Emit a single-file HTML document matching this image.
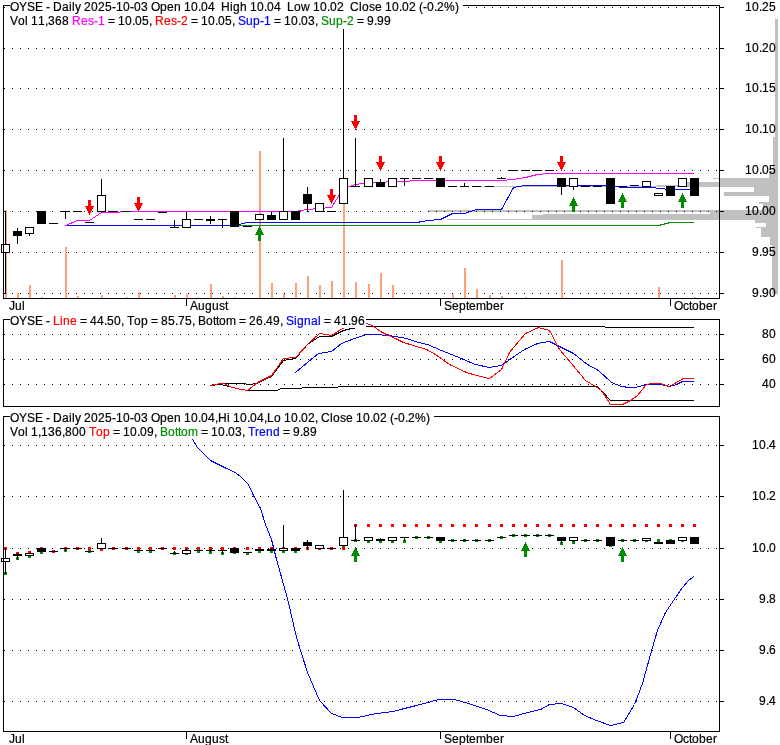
<!DOCTYPE html>
<html><head><meta charset="utf-8"><title>OYSE Daily Chart</title>
<style>
html,body{margin:0;padding:0;background:#fff;}
body{width:780px;height:745px;overflow:hidden;}
svg{display:block;}

</style></head>
<body>
<svg width="780" height="745" viewBox="0 0 780 745">
<g shape-rendering="crispEdges">
<rect x="775" y="19" width="3" height="118" fill="#c0c0c0"/>
<rect x="773" y="137" width="5" height="34" fill="#c0c0c0"/>
<rect x="769" y="171" width="9" height="7" fill="#c0c0c0"/>
<rect x="713" y="178" width="65" height="1" fill="#c0c0c0"/>
<rect x="720" y="179" width="58" height="3" fill="#c0c0c0"/>
<rect x="687" y="182" width="91" height="3" fill="#c0c0c0"/>
<rect x="657" y="185" width="121" height="1" fill="#c0c0c0"/>
<rect x="481" y="186" width="297" height="1" fill="#c0c0c0"/>
<rect x="754" y="187" width="24" height="5" fill="#c0c0c0"/>
<rect x="724" y="192" width="54" height="4" fill="#c0c0c0"/>
<rect x="769" y="196" width="9" height="6" fill="#c0c0c0"/>
<rect x="759" y="202" width="19" height="2" fill="#c0c0c0"/>
<rect x="763" y="204" width="15" height="6" fill="#c0c0c0"/>
<rect x="428" y="210" width="350" height="2" fill="#c0c0c0"/>
<rect x="710" y="212" width="68" height="2" fill="#c0c0c0"/>
<rect x="543" y="214" width="235" height="1" fill="#c0c0c0"/>
<rect x="532" y="215" width="246" height="4" fill="#c0c0c0"/>
<rect x="447" y="219" width="331" height="1" fill="#c0c0c0"/>
<rect x="755" y="220" width="23" height="3" fill="#c0c0c0"/>
<rect x="766" y="223" width="12" height="4" fill="#c0c0c0"/>
<rect x="756" y="227" width="22" height="1" fill="#c0c0c0"/>
<rect x="761" y="228" width="17" height="9" fill="#c0c0c0"/>
<rect x="770" y="237" width="8" height="8" fill="#c0c0c0"/>
<rect x="772" y="245" width="6" height="49" fill="#c0c0c0"/>
<rect x="4" y="7" width="1" height="1" fill="#000"/>
<rect x="12" y="7" width="1" height="1" fill="#000"/>
<rect x="20" y="7" width="1" height="1" fill="#000"/>
<rect x="28" y="7" width="1" height="1" fill="#000"/>
<rect x="36" y="7" width="1" height="1" fill="#000"/>
<rect x="44" y="7" width="1" height="1" fill="#000"/>
<rect x="52" y="7" width="1" height="1" fill="#000"/>
<rect x="60" y="7" width="1" height="1" fill="#000"/>
<rect x="68" y="7" width="1" height="1" fill="#000"/>
<rect x="76" y="7" width="1" height="1" fill="#000"/>
<rect x="84" y="7" width="1" height="1" fill="#000"/>
<rect x="92" y="7" width="1" height="1" fill="#000"/>
<rect x="100" y="7" width="1" height="1" fill="#000"/>
<rect x="108" y="7" width="1" height="1" fill="#000"/>
<rect x="116" y="7" width="1" height="1" fill="#000"/>
<rect x="124" y="7" width="1" height="1" fill="#000"/>
<rect x="132" y="7" width="1" height="1" fill="#000"/>
<rect x="140" y="7" width="1" height="1" fill="#000"/>
<rect x="148" y="7" width="1" height="1" fill="#000"/>
<rect x="156" y="7" width="1" height="1" fill="#000"/>
<rect x="164" y="7" width="1" height="1" fill="#000"/>
<rect x="172" y="7" width="1" height="1" fill="#000"/>
<rect x="180" y="7" width="1" height="1" fill="#000"/>
<rect x="188" y="7" width="1" height="1" fill="#000"/>
<rect x="196" y="7" width="1" height="1" fill="#000"/>
<rect x="204" y="7" width="1" height="1" fill="#000"/>
<rect x="212" y="7" width="1" height="1" fill="#000"/>
<rect x="220" y="7" width="1" height="1" fill="#000"/>
<rect x="228" y="7" width="1" height="1" fill="#000"/>
<rect x="236" y="7" width="1" height="1" fill="#000"/>
<rect x="244" y="7" width="1" height="1" fill="#000"/>
<rect x="252" y="7" width="1" height="1" fill="#000"/>
<rect x="260" y="7" width="1" height="1" fill="#000"/>
<rect x="268" y="7" width="1" height="1" fill="#000"/>
<rect x="276" y="7" width="1" height="1" fill="#000"/>
<rect x="284" y="7" width="1" height="1" fill="#000"/>
<rect x="292" y="7" width="1" height="1" fill="#000"/>
<rect x="300" y="7" width="1" height="1" fill="#000"/>
<rect x="308" y="7" width="1" height="1" fill="#000"/>
<rect x="316" y="7" width="1" height="1" fill="#000"/>
<rect x="324" y="7" width="1" height="1" fill="#000"/>
<rect x="332" y="7" width="1" height="1" fill="#000"/>
<rect x="340" y="7" width="1" height="1" fill="#000"/>
<rect x="348" y="7" width="1" height="1" fill="#000"/>
<rect x="356" y="7" width="1" height="1" fill="#000"/>
<rect x="364" y="7" width="1" height="1" fill="#000"/>
<rect x="372" y="7" width="1" height="1" fill="#000"/>
<rect x="380" y="7" width="1" height="1" fill="#000"/>
<rect x="388" y="7" width="1" height="1" fill="#000"/>
<rect x="396" y="7" width="1" height="1" fill="#000"/>
<rect x="404" y="7" width="1" height="1" fill="#000"/>
<rect x="412" y="7" width="1" height="1" fill="#000"/>
<rect x="420" y="7" width="1" height="1" fill="#000"/>
<rect x="428" y="7" width="1" height="1" fill="#000"/>
<rect x="436" y="7" width="1" height="1" fill="#000"/>
<rect x="444" y="7" width="1" height="1" fill="#000"/>
<rect x="452" y="7" width="1" height="1" fill="#000"/>
<rect x="460" y="7" width="1" height="1" fill="#000"/>
<rect x="468" y="7" width="1" height="1" fill="#000"/>
<rect x="476" y="7" width="1" height="1" fill="#000"/>
<rect x="484" y="7" width="1" height="1" fill="#000"/>
<rect x="492" y="7" width="1" height="1" fill="#000"/>
<rect x="500" y="7" width="1" height="1" fill="#000"/>
<rect x="508" y="7" width="1" height="1" fill="#000"/>
<rect x="516" y="7" width="1" height="1" fill="#000"/>
<rect x="524" y="7" width="1" height="1" fill="#000"/>
<rect x="532" y="7" width="1" height="1" fill="#000"/>
<rect x="540" y="7" width="1" height="1" fill="#000"/>
<rect x="548" y="7" width="1" height="1" fill="#000"/>
<rect x="556" y="7" width="1" height="1" fill="#000"/>
<rect x="564" y="7" width="1" height="1" fill="#000"/>
<rect x="572" y="7" width="1" height="1" fill="#000"/>
<rect x="580" y="7" width="1" height="1" fill="#000"/>
<rect x="588" y="7" width="1" height="1" fill="#000"/>
<rect x="596" y="7" width="1" height="1" fill="#000"/>
<rect x="604" y="7" width="1" height="1" fill="#000"/>
<rect x="612" y="7" width="1" height="1" fill="#000"/>
<rect x="620" y="7" width="1" height="1" fill="#000"/>
<rect x="628" y="7" width="1" height="1" fill="#000"/>
<rect x="636" y="7" width="1" height="1" fill="#000"/>
<rect x="644" y="7" width="1" height="1" fill="#000"/>
<rect x="652" y="7" width="1" height="1" fill="#000"/>
<rect x="660" y="7" width="1" height="1" fill="#000"/>
<rect x="668" y="7" width="1" height="1" fill="#000"/>
<rect x="676" y="7" width="1" height="1" fill="#000"/>
<rect x="684" y="7" width="1" height="1" fill="#000"/>
<rect x="692" y="7" width="1" height="1" fill="#000"/>
<rect x="700" y="7" width="1" height="1" fill="#000"/>
<rect x="708" y="7" width="1" height="1" fill="#000"/>
<rect x="716" y="7" width="1" height="1" fill="#000"/>
<rect x="4" y="48" width="1" height="1" fill="#000"/>
<rect x="12" y="48" width="1" height="1" fill="#000"/>
<rect x="20" y="48" width="1" height="1" fill="#000"/>
<rect x="28" y="48" width="1" height="1" fill="#000"/>
<rect x="36" y="48" width="1" height="1" fill="#000"/>
<rect x="44" y="48" width="1" height="1" fill="#000"/>
<rect x="52" y="48" width="1" height="1" fill="#000"/>
<rect x="60" y="48" width="1" height="1" fill="#000"/>
<rect x="68" y="48" width="1" height="1" fill="#000"/>
<rect x="76" y="48" width="1" height="1" fill="#000"/>
<rect x="84" y="48" width="1" height="1" fill="#000"/>
<rect x="92" y="48" width="1" height="1" fill="#000"/>
<rect x="100" y="48" width="1" height="1" fill="#000"/>
<rect x="108" y="48" width="1" height="1" fill="#000"/>
<rect x="116" y="48" width="1" height="1" fill="#000"/>
<rect x="124" y="48" width="1" height="1" fill="#000"/>
<rect x="132" y="48" width="1" height="1" fill="#000"/>
<rect x="140" y="48" width="1" height="1" fill="#000"/>
<rect x="148" y="48" width="1" height="1" fill="#000"/>
<rect x="156" y="48" width="1" height="1" fill="#000"/>
<rect x="164" y="48" width="1" height="1" fill="#000"/>
<rect x="172" y="48" width="1" height="1" fill="#000"/>
<rect x="180" y="48" width="1" height="1" fill="#000"/>
<rect x="188" y="48" width="1" height="1" fill="#000"/>
<rect x="196" y="48" width="1" height="1" fill="#000"/>
<rect x="204" y="48" width="1" height="1" fill="#000"/>
<rect x="212" y="48" width="1" height="1" fill="#000"/>
<rect x="220" y="48" width="1" height="1" fill="#000"/>
<rect x="228" y="48" width="1" height="1" fill="#000"/>
<rect x="236" y="48" width="1" height="1" fill="#000"/>
<rect x="244" y="48" width="1" height="1" fill="#000"/>
<rect x="252" y="48" width="1" height="1" fill="#000"/>
<rect x="260" y="48" width="1" height="1" fill="#000"/>
<rect x="268" y="48" width="1" height="1" fill="#000"/>
<rect x="276" y="48" width="1" height="1" fill="#000"/>
<rect x="284" y="48" width="1" height="1" fill="#000"/>
<rect x="292" y="48" width="1" height="1" fill="#000"/>
<rect x="300" y="48" width="1" height="1" fill="#000"/>
<rect x="308" y="48" width="1" height="1" fill="#000"/>
<rect x="316" y="48" width="1" height="1" fill="#000"/>
<rect x="324" y="48" width="1" height="1" fill="#000"/>
<rect x="332" y="48" width="1" height="1" fill="#000"/>
<rect x="340" y="48" width="1" height="1" fill="#000"/>
<rect x="348" y="48" width="1" height="1" fill="#000"/>
<rect x="356" y="48" width="1" height="1" fill="#000"/>
<rect x="364" y="48" width="1" height="1" fill="#000"/>
<rect x="372" y="48" width="1" height="1" fill="#000"/>
<rect x="380" y="48" width="1" height="1" fill="#000"/>
<rect x="388" y="48" width="1" height="1" fill="#000"/>
<rect x="396" y="48" width="1" height="1" fill="#000"/>
<rect x="404" y="48" width="1" height="1" fill="#000"/>
<rect x="412" y="48" width="1" height="1" fill="#000"/>
<rect x="420" y="48" width="1" height="1" fill="#000"/>
<rect x="428" y="48" width="1" height="1" fill="#000"/>
<rect x="436" y="48" width="1" height="1" fill="#000"/>
<rect x="444" y="48" width="1" height="1" fill="#000"/>
<rect x="452" y="48" width="1" height="1" fill="#000"/>
<rect x="460" y="48" width="1" height="1" fill="#000"/>
<rect x="468" y="48" width="1" height="1" fill="#000"/>
<rect x="476" y="48" width="1" height="1" fill="#000"/>
<rect x="484" y="48" width="1" height="1" fill="#000"/>
<rect x="492" y="48" width="1" height="1" fill="#000"/>
<rect x="500" y="48" width="1" height="1" fill="#000"/>
<rect x="508" y="48" width="1" height="1" fill="#000"/>
<rect x="516" y="48" width="1" height="1" fill="#000"/>
<rect x="524" y="48" width="1" height="1" fill="#000"/>
<rect x="532" y="48" width="1" height="1" fill="#000"/>
<rect x="540" y="48" width="1" height="1" fill="#000"/>
<rect x="548" y="48" width="1" height="1" fill="#000"/>
<rect x="556" y="48" width="1" height="1" fill="#000"/>
<rect x="564" y="48" width="1" height="1" fill="#000"/>
<rect x="572" y="48" width="1" height="1" fill="#000"/>
<rect x="580" y="48" width="1" height="1" fill="#000"/>
<rect x="588" y="48" width="1" height="1" fill="#000"/>
<rect x="596" y="48" width="1" height="1" fill="#000"/>
<rect x="604" y="48" width="1" height="1" fill="#000"/>
<rect x="612" y="48" width="1" height="1" fill="#000"/>
<rect x="620" y="48" width="1" height="1" fill="#000"/>
<rect x="628" y="48" width="1" height="1" fill="#000"/>
<rect x="636" y="48" width="1" height="1" fill="#000"/>
<rect x="644" y="48" width="1" height="1" fill="#000"/>
<rect x="652" y="48" width="1" height="1" fill="#000"/>
<rect x="660" y="48" width="1" height="1" fill="#000"/>
<rect x="668" y="48" width="1" height="1" fill="#000"/>
<rect x="676" y="48" width="1" height="1" fill="#000"/>
<rect x="684" y="48" width="1" height="1" fill="#000"/>
<rect x="692" y="48" width="1" height="1" fill="#000"/>
<rect x="700" y="48" width="1" height="1" fill="#000"/>
<rect x="708" y="48" width="1" height="1" fill="#000"/>
<rect x="716" y="48" width="1" height="1" fill="#000"/>
<rect x="4" y="88" width="1" height="1" fill="#000"/>
<rect x="12" y="88" width="1" height="1" fill="#000"/>
<rect x="20" y="88" width="1" height="1" fill="#000"/>
<rect x="28" y="88" width="1" height="1" fill="#000"/>
<rect x="36" y="88" width="1" height="1" fill="#000"/>
<rect x="44" y="88" width="1" height="1" fill="#000"/>
<rect x="52" y="88" width="1" height="1" fill="#000"/>
<rect x="60" y="88" width="1" height="1" fill="#000"/>
<rect x="68" y="88" width="1" height="1" fill="#000"/>
<rect x="76" y="88" width="1" height="1" fill="#000"/>
<rect x="84" y="88" width="1" height="1" fill="#000"/>
<rect x="92" y="88" width="1" height="1" fill="#000"/>
<rect x="100" y="88" width="1" height="1" fill="#000"/>
<rect x="108" y="88" width="1" height="1" fill="#000"/>
<rect x="116" y="88" width="1" height="1" fill="#000"/>
<rect x="124" y="88" width="1" height="1" fill="#000"/>
<rect x="132" y="88" width="1" height="1" fill="#000"/>
<rect x="140" y="88" width="1" height="1" fill="#000"/>
<rect x="148" y="88" width="1" height="1" fill="#000"/>
<rect x="156" y="88" width="1" height="1" fill="#000"/>
<rect x="164" y="88" width="1" height="1" fill="#000"/>
<rect x="172" y="88" width="1" height="1" fill="#000"/>
<rect x="180" y="88" width="1" height="1" fill="#000"/>
<rect x="188" y="88" width="1" height="1" fill="#000"/>
<rect x="196" y="88" width="1" height="1" fill="#000"/>
<rect x="204" y="88" width="1" height="1" fill="#000"/>
<rect x="212" y="88" width="1" height="1" fill="#000"/>
<rect x="220" y="88" width="1" height="1" fill="#000"/>
<rect x="228" y="88" width="1" height="1" fill="#000"/>
<rect x="236" y="88" width="1" height="1" fill="#000"/>
<rect x="244" y="88" width="1" height="1" fill="#000"/>
<rect x="252" y="88" width="1" height="1" fill="#000"/>
<rect x="260" y="88" width="1" height="1" fill="#000"/>
<rect x="268" y="88" width="1" height="1" fill="#000"/>
<rect x="276" y="88" width="1" height="1" fill="#000"/>
<rect x="284" y="88" width="1" height="1" fill="#000"/>
<rect x="292" y="88" width="1" height="1" fill="#000"/>
<rect x="300" y="88" width="1" height="1" fill="#000"/>
<rect x="308" y="88" width="1" height="1" fill="#000"/>
<rect x="316" y="88" width="1" height="1" fill="#000"/>
<rect x="324" y="88" width="1" height="1" fill="#000"/>
<rect x="332" y="88" width="1" height="1" fill="#000"/>
<rect x="340" y="88" width="1" height="1" fill="#000"/>
<rect x="348" y="88" width="1" height="1" fill="#000"/>
<rect x="356" y="88" width="1" height="1" fill="#000"/>
<rect x="364" y="88" width="1" height="1" fill="#000"/>
<rect x="372" y="88" width="1" height="1" fill="#000"/>
<rect x="380" y="88" width="1" height="1" fill="#000"/>
<rect x="388" y="88" width="1" height="1" fill="#000"/>
<rect x="396" y="88" width="1" height="1" fill="#000"/>
<rect x="404" y="88" width="1" height="1" fill="#000"/>
<rect x="412" y="88" width="1" height="1" fill="#000"/>
<rect x="420" y="88" width="1" height="1" fill="#000"/>
<rect x="428" y="88" width="1" height="1" fill="#000"/>
<rect x="436" y="88" width="1" height="1" fill="#000"/>
<rect x="444" y="88" width="1" height="1" fill="#000"/>
<rect x="452" y="88" width="1" height="1" fill="#000"/>
<rect x="460" y="88" width="1" height="1" fill="#000"/>
<rect x="468" y="88" width="1" height="1" fill="#000"/>
<rect x="476" y="88" width="1" height="1" fill="#000"/>
<rect x="484" y="88" width="1" height="1" fill="#000"/>
<rect x="492" y="88" width="1" height="1" fill="#000"/>
<rect x="500" y="88" width="1" height="1" fill="#000"/>
<rect x="508" y="88" width="1" height="1" fill="#000"/>
<rect x="516" y="88" width="1" height="1" fill="#000"/>
<rect x="524" y="88" width="1" height="1" fill="#000"/>
<rect x="532" y="88" width="1" height="1" fill="#000"/>
<rect x="540" y="88" width="1" height="1" fill="#000"/>
<rect x="548" y="88" width="1" height="1" fill="#000"/>
<rect x="556" y="88" width="1" height="1" fill="#000"/>
<rect x="564" y="88" width="1" height="1" fill="#000"/>
<rect x="572" y="88" width="1" height="1" fill="#000"/>
<rect x="580" y="88" width="1" height="1" fill="#000"/>
<rect x="588" y="88" width="1" height="1" fill="#000"/>
<rect x="596" y="88" width="1" height="1" fill="#000"/>
<rect x="604" y="88" width="1" height="1" fill="#000"/>
<rect x="612" y="88" width="1" height="1" fill="#000"/>
<rect x="620" y="88" width="1" height="1" fill="#000"/>
<rect x="628" y="88" width="1" height="1" fill="#000"/>
<rect x="636" y="88" width="1" height="1" fill="#000"/>
<rect x="644" y="88" width="1" height="1" fill="#000"/>
<rect x="652" y="88" width="1" height="1" fill="#000"/>
<rect x="660" y="88" width="1" height="1" fill="#000"/>
<rect x="668" y="88" width="1" height="1" fill="#000"/>
<rect x="676" y="88" width="1" height="1" fill="#000"/>
<rect x="684" y="88" width="1" height="1" fill="#000"/>
<rect x="692" y="88" width="1" height="1" fill="#000"/>
<rect x="700" y="88" width="1" height="1" fill="#000"/>
<rect x="708" y="88" width="1" height="1" fill="#000"/>
<rect x="716" y="88" width="1" height="1" fill="#000"/>
<rect x="4" y="129" width="1" height="1" fill="#000"/>
<rect x="12" y="129" width="1" height="1" fill="#000"/>
<rect x="20" y="129" width="1" height="1" fill="#000"/>
<rect x="28" y="129" width="1" height="1" fill="#000"/>
<rect x="36" y="129" width="1" height="1" fill="#000"/>
<rect x="44" y="129" width="1" height="1" fill="#000"/>
<rect x="52" y="129" width="1" height="1" fill="#000"/>
<rect x="60" y="129" width="1" height="1" fill="#000"/>
<rect x="68" y="129" width="1" height="1" fill="#000"/>
<rect x="76" y="129" width="1" height="1" fill="#000"/>
<rect x="84" y="129" width="1" height="1" fill="#000"/>
<rect x="92" y="129" width="1" height="1" fill="#000"/>
<rect x="100" y="129" width="1" height="1" fill="#000"/>
<rect x="108" y="129" width="1" height="1" fill="#000"/>
<rect x="116" y="129" width="1" height="1" fill="#000"/>
<rect x="124" y="129" width="1" height="1" fill="#000"/>
<rect x="132" y="129" width="1" height="1" fill="#000"/>
<rect x="140" y="129" width="1" height="1" fill="#000"/>
<rect x="148" y="129" width="1" height="1" fill="#000"/>
<rect x="156" y="129" width="1" height="1" fill="#000"/>
<rect x="164" y="129" width="1" height="1" fill="#000"/>
<rect x="172" y="129" width="1" height="1" fill="#000"/>
<rect x="180" y="129" width="1" height="1" fill="#000"/>
<rect x="188" y="129" width="1" height="1" fill="#000"/>
<rect x="196" y="129" width="1" height="1" fill="#000"/>
<rect x="204" y="129" width="1" height="1" fill="#000"/>
<rect x="212" y="129" width="1" height="1" fill="#000"/>
<rect x="220" y="129" width="1" height="1" fill="#000"/>
<rect x="228" y="129" width="1" height="1" fill="#000"/>
<rect x="236" y="129" width="1" height="1" fill="#000"/>
<rect x="244" y="129" width="1" height="1" fill="#000"/>
<rect x="252" y="129" width="1" height="1" fill="#000"/>
<rect x="260" y="129" width="1" height="1" fill="#000"/>
<rect x="268" y="129" width="1" height="1" fill="#000"/>
<rect x="276" y="129" width="1" height="1" fill="#000"/>
<rect x="284" y="129" width="1" height="1" fill="#000"/>
<rect x="292" y="129" width="1" height="1" fill="#000"/>
<rect x="300" y="129" width="1" height="1" fill="#000"/>
<rect x="308" y="129" width="1" height="1" fill="#000"/>
<rect x="316" y="129" width="1" height="1" fill="#000"/>
<rect x="324" y="129" width="1" height="1" fill="#000"/>
<rect x="332" y="129" width="1" height="1" fill="#000"/>
<rect x="340" y="129" width="1" height="1" fill="#000"/>
<rect x="348" y="129" width="1" height="1" fill="#000"/>
<rect x="356" y="129" width="1" height="1" fill="#000"/>
<rect x="364" y="129" width="1" height="1" fill="#000"/>
<rect x="372" y="129" width="1" height="1" fill="#000"/>
<rect x="380" y="129" width="1" height="1" fill="#000"/>
<rect x="388" y="129" width="1" height="1" fill="#000"/>
<rect x="396" y="129" width="1" height="1" fill="#000"/>
<rect x="404" y="129" width="1" height="1" fill="#000"/>
<rect x="412" y="129" width="1" height="1" fill="#000"/>
<rect x="420" y="129" width="1" height="1" fill="#000"/>
<rect x="428" y="129" width="1" height="1" fill="#000"/>
<rect x="436" y="129" width="1" height="1" fill="#000"/>
<rect x="444" y="129" width="1" height="1" fill="#000"/>
<rect x="452" y="129" width="1" height="1" fill="#000"/>
<rect x="460" y="129" width="1" height="1" fill="#000"/>
<rect x="468" y="129" width="1" height="1" fill="#000"/>
<rect x="476" y="129" width="1" height="1" fill="#000"/>
<rect x="484" y="129" width="1" height="1" fill="#000"/>
<rect x="492" y="129" width="1" height="1" fill="#000"/>
<rect x="500" y="129" width="1" height="1" fill="#000"/>
<rect x="508" y="129" width="1" height="1" fill="#000"/>
<rect x="516" y="129" width="1" height="1" fill="#000"/>
<rect x="524" y="129" width="1" height="1" fill="#000"/>
<rect x="532" y="129" width="1" height="1" fill="#000"/>
<rect x="540" y="129" width="1" height="1" fill="#000"/>
<rect x="548" y="129" width="1" height="1" fill="#000"/>
<rect x="556" y="129" width="1" height="1" fill="#000"/>
<rect x="564" y="129" width="1" height="1" fill="#000"/>
<rect x="572" y="129" width="1" height="1" fill="#000"/>
<rect x="580" y="129" width="1" height="1" fill="#000"/>
<rect x="588" y="129" width="1" height="1" fill="#000"/>
<rect x="596" y="129" width="1" height="1" fill="#000"/>
<rect x="604" y="129" width="1" height="1" fill="#000"/>
<rect x="612" y="129" width="1" height="1" fill="#000"/>
<rect x="620" y="129" width="1" height="1" fill="#000"/>
<rect x="628" y="129" width="1" height="1" fill="#000"/>
<rect x="636" y="129" width="1" height="1" fill="#000"/>
<rect x="644" y="129" width="1" height="1" fill="#000"/>
<rect x="652" y="129" width="1" height="1" fill="#000"/>
<rect x="660" y="129" width="1" height="1" fill="#000"/>
<rect x="668" y="129" width="1" height="1" fill="#000"/>
<rect x="676" y="129" width="1" height="1" fill="#000"/>
<rect x="684" y="129" width="1" height="1" fill="#000"/>
<rect x="692" y="129" width="1" height="1" fill="#000"/>
<rect x="700" y="129" width="1" height="1" fill="#000"/>
<rect x="708" y="129" width="1" height="1" fill="#000"/>
<rect x="716" y="129" width="1" height="1" fill="#000"/>
<rect x="4" y="170" width="1" height="1" fill="#000"/>
<rect x="12" y="170" width="1" height="1" fill="#000"/>
<rect x="20" y="170" width="1" height="1" fill="#000"/>
<rect x="28" y="170" width="1" height="1" fill="#000"/>
<rect x="36" y="170" width="1" height="1" fill="#000"/>
<rect x="44" y="170" width="1" height="1" fill="#000"/>
<rect x="52" y="170" width="1" height="1" fill="#000"/>
<rect x="60" y="170" width="1" height="1" fill="#000"/>
<rect x="68" y="170" width="1" height="1" fill="#000"/>
<rect x="76" y="170" width="1" height="1" fill="#000"/>
<rect x="84" y="170" width="1" height="1" fill="#000"/>
<rect x="92" y="170" width="1" height="1" fill="#000"/>
<rect x="100" y="170" width="1" height="1" fill="#000"/>
<rect x="108" y="170" width="1" height="1" fill="#000"/>
<rect x="116" y="170" width="1" height="1" fill="#000"/>
<rect x="124" y="170" width="1" height="1" fill="#000"/>
<rect x="132" y="170" width="1" height="1" fill="#000"/>
<rect x="140" y="170" width="1" height="1" fill="#000"/>
<rect x="148" y="170" width="1" height="1" fill="#000"/>
<rect x="156" y="170" width="1" height="1" fill="#000"/>
<rect x="164" y="170" width="1" height="1" fill="#000"/>
<rect x="172" y="170" width="1" height="1" fill="#000"/>
<rect x="180" y="170" width="1" height="1" fill="#000"/>
<rect x="188" y="170" width="1" height="1" fill="#000"/>
<rect x="196" y="170" width="1" height="1" fill="#000"/>
<rect x="204" y="170" width="1" height="1" fill="#000"/>
<rect x="212" y="170" width="1" height="1" fill="#000"/>
<rect x="220" y="170" width="1" height="1" fill="#000"/>
<rect x="228" y="170" width="1" height="1" fill="#000"/>
<rect x="236" y="170" width="1" height="1" fill="#000"/>
<rect x="244" y="170" width="1" height="1" fill="#000"/>
<rect x="252" y="170" width="1" height="1" fill="#000"/>
<rect x="260" y="170" width="1" height="1" fill="#000"/>
<rect x="268" y="170" width="1" height="1" fill="#000"/>
<rect x="276" y="170" width="1" height="1" fill="#000"/>
<rect x="284" y="170" width="1" height="1" fill="#000"/>
<rect x="292" y="170" width="1" height="1" fill="#000"/>
<rect x="300" y="170" width="1" height="1" fill="#000"/>
<rect x="308" y="170" width="1" height="1" fill="#000"/>
<rect x="316" y="170" width="1" height="1" fill="#000"/>
<rect x="324" y="170" width="1" height="1" fill="#000"/>
<rect x="332" y="170" width="1" height="1" fill="#000"/>
<rect x="340" y="170" width="1" height="1" fill="#000"/>
<rect x="348" y="170" width="1" height="1" fill="#000"/>
<rect x="356" y="170" width="1" height="1" fill="#000"/>
<rect x="364" y="170" width="1" height="1" fill="#000"/>
<rect x="372" y="170" width="1" height="1" fill="#000"/>
<rect x="380" y="170" width="1" height="1" fill="#000"/>
<rect x="388" y="170" width="1" height="1" fill="#000"/>
<rect x="396" y="170" width="1" height="1" fill="#000"/>
<rect x="404" y="170" width="1" height="1" fill="#000"/>
<rect x="412" y="170" width="1" height="1" fill="#000"/>
<rect x="420" y="170" width="1" height="1" fill="#000"/>
<rect x="428" y="170" width="1" height="1" fill="#000"/>
<rect x="436" y="170" width="1" height="1" fill="#000"/>
<rect x="444" y="170" width="1" height="1" fill="#000"/>
<rect x="452" y="170" width="1" height="1" fill="#000"/>
<rect x="460" y="170" width="1" height="1" fill="#000"/>
<rect x="468" y="170" width="1" height="1" fill="#000"/>
<rect x="476" y="170" width="1" height="1" fill="#000"/>
<rect x="484" y="170" width="1" height="1" fill="#000"/>
<rect x="492" y="170" width="1" height="1" fill="#000"/>
<rect x="500" y="170" width="1" height="1" fill="#000"/>
<rect x="508" y="170" width="1" height="1" fill="#000"/>
<rect x="516" y="170" width="1" height="1" fill="#000"/>
<rect x="524" y="170" width="1" height="1" fill="#000"/>
<rect x="532" y="170" width="1" height="1" fill="#000"/>
<rect x="540" y="170" width="1" height="1" fill="#000"/>
<rect x="548" y="170" width="1" height="1" fill="#000"/>
<rect x="556" y="170" width="1" height="1" fill="#000"/>
<rect x="564" y="170" width="1" height="1" fill="#000"/>
<rect x="572" y="170" width="1" height="1" fill="#000"/>
<rect x="580" y="170" width="1" height="1" fill="#000"/>
<rect x="588" y="170" width="1" height="1" fill="#000"/>
<rect x="596" y="170" width="1" height="1" fill="#000"/>
<rect x="604" y="170" width="1" height="1" fill="#000"/>
<rect x="612" y="170" width="1" height="1" fill="#000"/>
<rect x="620" y="170" width="1" height="1" fill="#000"/>
<rect x="628" y="170" width="1" height="1" fill="#000"/>
<rect x="636" y="170" width="1" height="1" fill="#000"/>
<rect x="644" y="170" width="1" height="1" fill="#000"/>
<rect x="652" y="170" width="1" height="1" fill="#000"/>
<rect x="660" y="170" width="1" height="1" fill="#000"/>
<rect x="668" y="170" width="1" height="1" fill="#000"/>
<rect x="676" y="170" width="1" height="1" fill="#000"/>
<rect x="684" y="170" width="1" height="1" fill="#000"/>
<rect x="692" y="170" width="1" height="1" fill="#000"/>
<rect x="700" y="170" width="1" height="1" fill="#000"/>
<rect x="708" y="170" width="1" height="1" fill="#000"/>
<rect x="716" y="170" width="1" height="1" fill="#000"/>
<rect x="4" y="211" width="1" height="1" fill="#000"/>
<rect x="12" y="211" width="1" height="1" fill="#000"/>
<rect x="20" y="211" width="1" height="1" fill="#000"/>
<rect x="28" y="211" width="1" height="1" fill="#000"/>
<rect x="36" y="211" width="1" height="1" fill="#000"/>
<rect x="44" y="211" width="1" height="1" fill="#000"/>
<rect x="52" y="211" width="1" height="1" fill="#000"/>
<rect x="60" y="211" width="1" height="1" fill="#000"/>
<rect x="68" y="211" width="1" height="1" fill="#000"/>
<rect x="76" y="211" width="1" height="1" fill="#000"/>
<rect x="84" y="211" width="1" height="1" fill="#000"/>
<rect x="92" y="211" width="1" height="1" fill="#000"/>
<rect x="100" y="211" width="1" height="1" fill="#000"/>
<rect x="108" y="211" width="1" height="1" fill="#000"/>
<rect x="116" y="211" width="1" height="1" fill="#000"/>
<rect x="124" y="211" width="1" height="1" fill="#000"/>
<rect x="132" y="211" width="1" height="1" fill="#000"/>
<rect x="140" y="211" width="1" height="1" fill="#000"/>
<rect x="148" y="211" width="1" height="1" fill="#000"/>
<rect x="156" y="211" width="1" height="1" fill="#000"/>
<rect x="164" y="211" width="1" height="1" fill="#000"/>
<rect x="172" y="211" width="1" height="1" fill="#000"/>
<rect x="180" y="211" width="1" height="1" fill="#000"/>
<rect x="188" y="211" width="1" height="1" fill="#000"/>
<rect x="196" y="211" width="1" height="1" fill="#000"/>
<rect x="204" y="211" width="1" height="1" fill="#000"/>
<rect x="212" y="211" width="1" height="1" fill="#000"/>
<rect x="220" y="211" width="1" height="1" fill="#000"/>
<rect x="228" y="211" width="1" height="1" fill="#000"/>
<rect x="236" y="211" width="1" height="1" fill="#000"/>
<rect x="244" y="211" width="1" height="1" fill="#000"/>
<rect x="252" y="211" width="1" height="1" fill="#000"/>
<rect x="260" y="211" width="1" height="1" fill="#000"/>
<rect x="268" y="211" width="1" height="1" fill="#000"/>
<rect x="276" y="211" width="1" height="1" fill="#000"/>
<rect x="284" y="211" width="1" height="1" fill="#000"/>
<rect x="292" y="211" width="1" height="1" fill="#000"/>
<rect x="300" y="211" width="1" height="1" fill="#000"/>
<rect x="308" y="211" width="1" height="1" fill="#000"/>
<rect x="316" y="211" width="1" height="1" fill="#000"/>
<rect x="324" y="211" width="1" height="1" fill="#000"/>
<rect x="332" y="211" width="1" height="1" fill="#000"/>
<rect x="340" y="211" width="1" height="1" fill="#000"/>
<rect x="348" y="211" width="1" height="1" fill="#000"/>
<rect x="356" y="211" width="1" height="1" fill="#000"/>
<rect x="364" y="211" width="1" height="1" fill="#000"/>
<rect x="372" y="211" width="1" height="1" fill="#000"/>
<rect x="380" y="211" width="1" height="1" fill="#000"/>
<rect x="388" y="211" width="1" height="1" fill="#000"/>
<rect x="396" y="211" width="1" height="1" fill="#000"/>
<rect x="404" y="211" width="1" height="1" fill="#000"/>
<rect x="412" y="211" width="1" height="1" fill="#000"/>
<rect x="420" y="211" width="1" height="1" fill="#000"/>
<rect x="428" y="211" width="1" height="1" fill="#000"/>
<rect x="436" y="211" width="1" height="1" fill="#000"/>
<rect x="444" y="211" width="1" height="1" fill="#000"/>
<rect x="452" y="211" width="1" height="1" fill="#000"/>
<rect x="460" y="211" width="1" height="1" fill="#000"/>
<rect x="468" y="211" width="1" height="1" fill="#000"/>
<rect x="476" y="211" width="1" height="1" fill="#000"/>
<rect x="484" y="211" width="1" height="1" fill="#000"/>
<rect x="492" y="211" width="1" height="1" fill="#000"/>
<rect x="500" y="211" width="1" height="1" fill="#000"/>
<rect x="508" y="211" width="1" height="1" fill="#000"/>
<rect x="516" y="211" width="1" height="1" fill="#000"/>
<rect x="524" y="211" width="1" height="1" fill="#000"/>
<rect x="532" y="211" width="1" height="1" fill="#000"/>
<rect x="540" y="211" width="1" height="1" fill="#000"/>
<rect x="548" y="211" width="1" height="1" fill="#000"/>
<rect x="556" y="211" width="1" height="1" fill="#000"/>
<rect x="564" y="211" width="1" height="1" fill="#000"/>
<rect x="572" y="211" width="1" height="1" fill="#000"/>
<rect x="580" y="211" width="1" height="1" fill="#000"/>
<rect x="588" y="211" width="1" height="1" fill="#000"/>
<rect x="596" y="211" width="1" height="1" fill="#000"/>
<rect x="604" y="211" width="1" height="1" fill="#000"/>
<rect x="612" y="211" width="1" height="1" fill="#000"/>
<rect x="620" y="211" width="1" height="1" fill="#000"/>
<rect x="628" y="211" width="1" height="1" fill="#000"/>
<rect x="636" y="211" width="1" height="1" fill="#000"/>
<rect x="644" y="211" width="1" height="1" fill="#000"/>
<rect x="652" y="211" width="1" height="1" fill="#000"/>
<rect x="660" y="211" width="1" height="1" fill="#000"/>
<rect x="668" y="211" width="1" height="1" fill="#000"/>
<rect x="676" y="211" width="1" height="1" fill="#000"/>
<rect x="684" y="211" width="1" height="1" fill="#000"/>
<rect x="692" y="211" width="1" height="1" fill="#000"/>
<rect x="700" y="211" width="1" height="1" fill="#000"/>
<rect x="708" y="211" width="1" height="1" fill="#000"/>
<rect x="716" y="211" width="1" height="1" fill="#000"/>
<rect x="4" y="252" width="1" height="1" fill="#000"/>
<rect x="12" y="252" width="1" height="1" fill="#000"/>
<rect x="20" y="252" width="1" height="1" fill="#000"/>
<rect x="28" y="252" width="1" height="1" fill="#000"/>
<rect x="36" y="252" width="1" height="1" fill="#000"/>
<rect x="44" y="252" width="1" height="1" fill="#000"/>
<rect x="52" y="252" width="1" height="1" fill="#000"/>
<rect x="60" y="252" width="1" height="1" fill="#000"/>
<rect x="68" y="252" width="1" height="1" fill="#000"/>
<rect x="76" y="252" width="1" height="1" fill="#000"/>
<rect x="84" y="252" width="1" height="1" fill="#000"/>
<rect x="92" y="252" width="1" height="1" fill="#000"/>
<rect x="100" y="252" width="1" height="1" fill="#000"/>
<rect x="108" y="252" width="1" height="1" fill="#000"/>
<rect x="116" y="252" width="1" height="1" fill="#000"/>
<rect x="124" y="252" width="1" height="1" fill="#000"/>
<rect x="132" y="252" width="1" height="1" fill="#000"/>
<rect x="140" y="252" width="1" height="1" fill="#000"/>
<rect x="148" y="252" width="1" height="1" fill="#000"/>
<rect x="156" y="252" width="1" height="1" fill="#000"/>
<rect x="164" y="252" width="1" height="1" fill="#000"/>
<rect x="172" y="252" width="1" height="1" fill="#000"/>
<rect x="180" y="252" width="1" height="1" fill="#000"/>
<rect x="188" y="252" width="1" height="1" fill="#000"/>
<rect x="196" y="252" width="1" height="1" fill="#000"/>
<rect x="204" y="252" width="1" height="1" fill="#000"/>
<rect x="212" y="252" width="1" height="1" fill="#000"/>
<rect x="220" y="252" width="1" height="1" fill="#000"/>
<rect x="228" y="252" width="1" height="1" fill="#000"/>
<rect x="236" y="252" width="1" height="1" fill="#000"/>
<rect x="244" y="252" width="1" height="1" fill="#000"/>
<rect x="252" y="252" width="1" height="1" fill="#000"/>
<rect x="260" y="252" width="1" height="1" fill="#000"/>
<rect x="268" y="252" width="1" height="1" fill="#000"/>
<rect x="276" y="252" width="1" height="1" fill="#000"/>
<rect x="284" y="252" width="1" height="1" fill="#000"/>
<rect x="292" y="252" width="1" height="1" fill="#000"/>
<rect x="300" y="252" width="1" height="1" fill="#000"/>
<rect x="308" y="252" width="1" height="1" fill="#000"/>
<rect x="316" y="252" width="1" height="1" fill="#000"/>
<rect x="324" y="252" width="1" height="1" fill="#000"/>
<rect x="332" y="252" width="1" height="1" fill="#000"/>
<rect x="340" y="252" width="1" height="1" fill="#000"/>
<rect x="348" y="252" width="1" height="1" fill="#000"/>
<rect x="356" y="252" width="1" height="1" fill="#000"/>
<rect x="364" y="252" width="1" height="1" fill="#000"/>
<rect x="372" y="252" width="1" height="1" fill="#000"/>
<rect x="380" y="252" width="1" height="1" fill="#000"/>
<rect x="388" y="252" width="1" height="1" fill="#000"/>
<rect x="396" y="252" width="1" height="1" fill="#000"/>
<rect x="404" y="252" width="1" height="1" fill="#000"/>
<rect x="412" y="252" width="1" height="1" fill="#000"/>
<rect x="420" y="252" width="1" height="1" fill="#000"/>
<rect x="428" y="252" width="1" height="1" fill="#000"/>
<rect x="436" y="252" width="1" height="1" fill="#000"/>
<rect x="444" y="252" width="1" height="1" fill="#000"/>
<rect x="452" y="252" width="1" height="1" fill="#000"/>
<rect x="460" y="252" width="1" height="1" fill="#000"/>
<rect x="468" y="252" width="1" height="1" fill="#000"/>
<rect x="476" y="252" width="1" height="1" fill="#000"/>
<rect x="484" y="252" width="1" height="1" fill="#000"/>
<rect x="492" y="252" width="1" height="1" fill="#000"/>
<rect x="500" y="252" width="1" height="1" fill="#000"/>
<rect x="508" y="252" width="1" height="1" fill="#000"/>
<rect x="516" y="252" width="1" height="1" fill="#000"/>
<rect x="524" y="252" width="1" height="1" fill="#000"/>
<rect x="532" y="252" width="1" height="1" fill="#000"/>
<rect x="540" y="252" width="1" height="1" fill="#000"/>
<rect x="548" y="252" width="1" height="1" fill="#000"/>
<rect x="556" y="252" width="1" height="1" fill="#000"/>
<rect x="564" y="252" width="1" height="1" fill="#000"/>
<rect x="572" y="252" width="1" height="1" fill="#000"/>
<rect x="580" y="252" width="1" height="1" fill="#000"/>
<rect x="588" y="252" width="1" height="1" fill="#000"/>
<rect x="596" y="252" width="1" height="1" fill="#000"/>
<rect x="604" y="252" width="1" height="1" fill="#000"/>
<rect x="612" y="252" width="1" height="1" fill="#000"/>
<rect x="620" y="252" width="1" height="1" fill="#000"/>
<rect x="628" y="252" width="1" height="1" fill="#000"/>
<rect x="636" y="252" width="1" height="1" fill="#000"/>
<rect x="644" y="252" width="1" height="1" fill="#000"/>
<rect x="652" y="252" width="1" height="1" fill="#000"/>
<rect x="660" y="252" width="1" height="1" fill="#000"/>
<rect x="668" y="252" width="1" height="1" fill="#000"/>
<rect x="676" y="252" width="1" height="1" fill="#000"/>
<rect x="684" y="252" width="1" height="1" fill="#000"/>
<rect x="692" y="252" width="1" height="1" fill="#000"/>
<rect x="700" y="252" width="1" height="1" fill="#000"/>
<rect x="708" y="252" width="1" height="1" fill="#000"/>
<rect x="716" y="252" width="1" height="1" fill="#000"/>
<rect x="4" y="293" width="1" height="1" fill="#000"/>
<rect x="12" y="293" width="1" height="1" fill="#000"/>
<rect x="20" y="293" width="1" height="1" fill="#000"/>
<rect x="28" y="293" width="1" height="1" fill="#000"/>
<rect x="36" y="293" width="1" height="1" fill="#000"/>
<rect x="44" y="293" width="1" height="1" fill="#000"/>
<rect x="52" y="293" width="1" height="1" fill="#000"/>
<rect x="60" y="293" width="1" height="1" fill="#000"/>
<rect x="68" y="293" width="1" height="1" fill="#000"/>
<rect x="76" y="293" width="1" height="1" fill="#000"/>
<rect x="84" y="293" width="1" height="1" fill="#000"/>
<rect x="92" y="293" width="1" height="1" fill="#000"/>
<rect x="100" y="293" width="1" height="1" fill="#000"/>
<rect x="108" y="293" width="1" height="1" fill="#000"/>
<rect x="116" y="293" width="1" height="1" fill="#000"/>
<rect x="124" y="293" width="1" height="1" fill="#000"/>
<rect x="132" y="293" width="1" height="1" fill="#000"/>
<rect x="140" y="293" width="1" height="1" fill="#000"/>
<rect x="148" y="293" width="1" height="1" fill="#000"/>
<rect x="156" y="293" width="1" height="1" fill="#000"/>
<rect x="164" y="293" width="1" height="1" fill="#000"/>
<rect x="172" y="293" width="1" height="1" fill="#000"/>
<rect x="180" y="293" width="1" height="1" fill="#000"/>
<rect x="188" y="293" width="1" height="1" fill="#000"/>
<rect x="196" y="293" width="1" height="1" fill="#000"/>
<rect x="204" y="293" width="1" height="1" fill="#000"/>
<rect x="212" y="293" width="1" height="1" fill="#000"/>
<rect x="220" y="293" width="1" height="1" fill="#000"/>
<rect x="228" y="293" width="1" height="1" fill="#000"/>
<rect x="236" y="293" width="1" height="1" fill="#000"/>
<rect x="244" y="293" width="1" height="1" fill="#000"/>
<rect x="252" y="293" width="1" height="1" fill="#000"/>
<rect x="260" y="293" width="1" height="1" fill="#000"/>
<rect x="268" y="293" width="1" height="1" fill="#000"/>
<rect x="276" y="293" width="1" height="1" fill="#000"/>
<rect x="284" y="293" width="1" height="1" fill="#000"/>
<rect x="292" y="293" width="1" height="1" fill="#000"/>
<rect x="300" y="293" width="1" height="1" fill="#000"/>
<rect x="308" y="293" width="1" height="1" fill="#000"/>
<rect x="316" y="293" width="1" height="1" fill="#000"/>
<rect x="324" y="293" width="1" height="1" fill="#000"/>
<rect x="332" y="293" width="1" height="1" fill="#000"/>
<rect x="340" y="293" width="1" height="1" fill="#000"/>
<rect x="348" y="293" width="1" height="1" fill="#000"/>
<rect x="356" y="293" width="1" height="1" fill="#000"/>
<rect x="364" y="293" width="1" height="1" fill="#000"/>
<rect x="372" y="293" width="1" height="1" fill="#000"/>
<rect x="380" y="293" width="1" height="1" fill="#000"/>
<rect x="388" y="293" width="1" height="1" fill="#000"/>
<rect x="396" y="293" width="1" height="1" fill="#000"/>
<rect x="404" y="293" width="1" height="1" fill="#000"/>
<rect x="412" y="293" width="1" height="1" fill="#000"/>
<rect x="420" y="293" width="1" height="1" fill="#000"/>
<rect x="428" y="293" width="1" height="1" fill="#000"/>
<rect x="436" y="293" width="1" height="1" fill="#000"/>
<rect x="444" y="293" width="1" height="1" fill="#000"/>
<rect x="452" y="293" width="1" height="1" fill="#000"/>
<rect x="460" y="293" width="1" height="1" fill="#000"/>
<rect x="468" y="293" width="1" height="1" fill="#000"/>
<rect x="476" y="293" width="1" height="1" fill="#000"/>
<rect x="484" y="293" width="1" height="1" fill="#000"/>
<rect x="492" y="293" width="1" height="1" fill="#000"/>
<rect x="500" y="293" width="1" height="1" fill="#000"/>
<rect x="508" y="293" width="1" height="1" fill="#000"/>
<rect x="516" y="293" width="1" height="1" fill="#000"/>
<rect x="524" y="293" width="1" height="1" fill="#000"/>
<rect x="532" y="293" width="1" height="1" fill="#000"/>
<rect x="540" y="293" width="1" height="1" fill="#000"/>
<rect x="548" y="293" width="1" height="1" fill="#000"/>
<rect x="556" y="293" width="1" height="1" fill="#000"/>
<rect x="564" y="293" width="1" height="1" fill="#000"/>
<rect x="572" y="293" width="1" height="1" fill="#000"/>
<rect x="580" y="293" width="1" height="1" fill="#000"/>
<rect x="588" y="293" width="1" height="1" fill="#000"/>
<rect x="596" y="293" width="1" height="1" fill="#000"/>
<rect x="604" y="293" width="1" height="1" fill="#000"/>
<rect x="612" y="293" width="1" height="1" fill="#000"/>
<rect x="620" y="293" width="1" height="1" fill="#000"/>
<rect x="628" y="293" width="1" height="1" fill="#000"/>
<rect x="636" y="293" width="1" height="1" fill="#000"/>
<rect x="644" y="293" width="1" height="1" fill="#000"/>
<rect x="652" y="293" width="1" height="1" fill="#000"/>
<rect x="660" y="293" width="1" height="1" fill="#000"/>
<rect x="668" y="293" width="1" height="1" fill="#000"/>
<rect x="676" y="293" width="1" height="1" fill="#000"/>
<rect x="684" y="293" width="1" height="1" fill="#000"/>
<rect x="692" y="293" width="1" height="1" fill="#000"/>
<rect x="700" y="293" width="1" height="1" fill="#000"/>
<rect x="708" y="293" width="1" height="1" fill="#000"/>
<rect x="716" y="293" width="1" height="1" fill="#000"/>
<rect x="5" y="210" width="2" height="88" fill="#ffa07a"/>
<rect x="17" y="293" width="2" height="5" fill="#ffa07a"/>
<rect x="29" y="285" width="2" height="13" fill="#ffa07a"/>
<rect x="41" y="297" width="2" height="1" fill="#ffa07a"/>
<rect x="65" y="247" width="2" height="51" fill="#ffa07a"/>
<rect x="77" y="296" width="2" height="2" fill="#ffa07a"/>
<rect x="101" y="295" width="2" height="3" fill="#ffa07a"/>
<rect x="126" y="297" width="2" height="1" fill="#ffa07a"/>
<rect x="138" y="292" width="2" height="6" fill="#ffa07a"/>
<rect x="174" y="295" width="2" height="3" fill="#ffa07a"/>
<rect x="186" y="294" width="2" height="4" fill="#ffa07a"/>
<rect x="210" y="284" width="2" height="14" fill="#ffa07a"/>
<rect x="222" y="296" width="2" height="2" fill="#ffa07a"/>
<rect x="234" y="297" width="2" height="1" fill="#ffa07a"/>
<rect x="259" y="151" width="2" height="147" fill="#ffa07a"/>
<rect x="271" y="283" width="2" height="15" fill="#ffa07a"/>
<rect x="283" y="294" width="2" height="4" fill="#ffa07a"/>
<rect x="295" y="283" width="2" height="15" fill="#ffa07a"/>
<rect x="307" y="276" width="2" height="22" fill="#ffa07a"/>
<rect x="319" y="285" width="2" height="13" fill="#ffa07a"/>
<rect x="331" y="281" width="2" height="17" fill="#ffa07a"/>
<rect x="343" y="204" width="2" height="94" fill="#ffa07a"/>
<rect x="355" y="282" width="2" height="16" fill="#ffa07a"/>
<rect x="368" y="284" width="2" height="14" fill="#ffa07a"/>
<rect x="380" y="273" width="2" height="25" fill="#ffa07a"/>
<rect x="392" y="285" width="2" height="13" fill="#ffa07a"/>
<rect x="452" y="294" width="2" height="4" fill="#ffa07a"/>
<rect x="464" y="268" width="2" height="30" fill="#ffa07a"/>
<rect x="476" y="289" width="2" height="9" fill="#ffa07a"/>
<rect x="489" y="295" width="2" height="3" fill="#ffa07a"/>
<rect x="501" y="296" width="2" height="2" fill="#ffa07a"/>
<rect x="525" y="297" width="2" height="1" fill="#ffa07a"/>
<rect x="561" y="260" width="2" height="38" fill="#ffa07a"/>
<rect x="658" y="287" width="2" height="11" fill="#ffa07a"/>
<rect x="694" y="297" width="2" height="1" fill="#ffa07a"/>
<polyline points="65.5,225.5 658.5,225.5 670.5,222.5 693.9,222.5" fill="none" stroke="#008c00" stroke-width="1"/>
<polyline points="65.5,225.5 234.5,225.5 247.5,222.5 416.5,222.5 422.5,221.5 428.5,220.5 440.5,219.5 452.5,213.5 464.5,213.5 476.5,209.5 501.5,209.5 513.5,187.5 525.5,185.5 610.5,185.5 622.5,187.5 652.5,187.5 658.5,188.5 670.5,189.5 693.9,189.5" fill="none" stroke="#0000ff" stroke-width="1"/>
<polyline points="65.5,225.5 77.5,220.5 89.5,220.5 101.5,212.5 113.5,212.5 126.5,211.5 138.5,211.5 295.5,211.5 307.5,209.5 319.5,208.5 331.5,207.5 343.5,188.5 355.5,184.5 368.5,182.5 380.5,182.5 392.5,181.5 404.5,181.5 409.5,181.5 410.5,180.5 416.5,180.5 501.5,180.5 513.5,179.5 525.5,177.5 537.5,174.5 549.5,173.5 693.9,173.5" fill="none" stroke="#ff00ff" stroke-width="1"/>
<rect x="5" y="211" width="1" height="83" fill="#000"/>
<rect x="1" y="244" width="9" height="9" fill="#000"/>
<rect x="2" y="245" width="7" height="7" fill="#fff"/>
<rect x="17" y="228" width="1" height="16" fill="#000"/>
<rect x="13" y="231" width="9" height="5" fill="#000"/>
<rect x="29" y="227" width="1" height="9" fill="#000"/>
<rect x="25" y="227" width="9" height="7" fill="#000"/>
<rect x="26" y="228" width="7" height="5" fill="#fff"/>
<rect x="37" y="211" width="9" height="13" fill="#000"/>
<rect x="49" y="223" width="9" height="1" fill="#000"/>
<rect x="65" y="211" width="1" height="8" fill="#000"/>
<rect x="61" y="211" width="9" height="1" fill="#000"/>
<rect x="73" y="211" width="9" height="1" fill="#000"/>
<rect x="85" y="222" width="9" height="1" fill="#000"/>
<rect x="101" y="179" width="1" height="33" fill="#000"/>
<rect x="97" y="195" width="9" height="17" fill="#000"/>
<rect x="98" y="196" width="7" height="15" fill="#fff"/>
<rect x="109" y="211" width="9" height="1" fill="#000"/>
<rect x="122" y="211" width="9" height="1" fill="#000"/>
<rect x="134" y="219" width="9" height="1" fill="#000"/>
<rect x="146" y="219" width="9" height="1" fill="#000"/>
<rect x="158" y="212" width="9" height="1" fill="#000"/>
<rect x="174" y="220" width="1" height="8" fill="#000"/>
<rect x="170" y="227" width="9" height="1" fill="#000"/>
<rect x="186" y="212" width="1" height="16" fill="#000"/>
<rect x="182" y="219" width="9" height="9" fill="#000"/>
<rect x="183" y="220" width="7" height="7" fill="#fff"/>
<rect x="194" y="219" width="9" height="1" fill="#000"/>
<rect x="210" y="216" width="1" height="8" fill="#000"/>
<rect x="206" y="219" width="9" height="2" fill="#000"/>
<rect x="222" y="219" width="1" height="9" fill="#000"/>
<rect x="218" y="219" width="9" height="1" fill="#000"/>
<rect x="230" y="211" width="9" height="16" fill="#000"/>
<rect x="243" y="226" width="9" height="1" fill="#000"/>
<rect x="255" y="214" width="9" height="6" fill="#000"/>
<rect x="256" y="215" width="7" height="4" fill="#fff"/>
<rect x="271" y="212" width="1" height="8" fill="#000"/>
<rect x="267" y="215" width="9" height="5" fill="#000"/>
<rect x="283" y="138" width="1" height="82" fill="#000"/>
<rect x="279" y="211" width="9" height="9" fill="#000"/>
<rect x="280" y="212" width="7" height="7" fill="#fff"/>
<rect x="291" y="211" width="9" height="9" fill="#000"/>
<rect x="307" y="187" width="1" height="25" fill="#000"/>
<rect x="303" y="194" width="9" height="10" fill="#000"/>
<rect x="315" y="203" width="9" height="9" fill="#000"/>
<rect x="316" y="204" width="7" height="7" fill="#fff"/>
<rect x="327" y="211" width="9" height="1" fill="#000"/>
<rect x="343" y="28" width="1" height="176" fill="#000"/>
<rect x="339" y="178" width="9" height="26" fill="#000"/>
<rect x="340" y="179" width="7" height="24" fill="#fff"/>
<rect x="355" y="138" width="1" height="49" fill="#000"/>
<rect x="351" y="186" width="9" height="1" fill="#000"/>
<rect x="364" y="178" width="9" height="9" fill="#000"/>
<rect x="365" y="179" width="7" height="7" fill="#fff"/>
<rect x="380" y="179" width="1" height="8" fill="#000"/>
<rect x="376" y="182" width="9" height="5" fill="#000"/>
<rect x="388" y="178" width="9" height="9" fill="#000"/>
<rect x="389" y="179" width="7" height="7" fill="#fff"/>
<rect x="404" y="178" width="1" height="8" fill="#000"/>
<rect x="400" y="178" width="9" height="1" fill="#000"/>
<rect x="412" y="178" width="9" height="1" fill="#000"/>
<rect x="424" y="178" width="9" height="1" fill="#000"/>
<rect x="436" y="178" width="9" height="9" fill="#000"/>
<rect x="448" y="186" width="9" height="1" fill="#000"/>
<rect x="464" y="183" width="1" height="4" fill="#000"/>
<rect x="460" y="186" width="9" height="1" fill="#000"/>
<rect x="472" y="186" width="9" height="1" fill="#000"/>
<rect x="485" y="186" width="9" height="1" fill="#000"/>
<rect x="501" y="177" width="1" height="2" fill="#000"/>
<rect x="497" y="178" width="9" height="1" fill="#000"/>
<rect x="509" y="170" width="9" height="1" fill="#000"/>
<rect x="521" y="170" width="9" height="1" fill="#000"/>
<rect x="533" y="170" width="9" height="1" fill="#000"/>
<rect x="545" y="170" width="9" height="1" fill="#000"/>
<rect x="561" y="178" width="1" height="17" fill="#000"/>
<rect x="557" y="178" width="9" height="9" fill="#000"/>
<rect x="573" y="178" width="1" height="12" fill="#000"/>
<rect x="569" y="178" width="9" height="9" fill="#000"/>
<rect x="570" y="179" width="7" height="7" fill="#fff"/>
<rect x="581" y="186" width="9" height="1" fill="#000"/>
<rect x="593" y="186" width="9" height="1" fill="#000"/>
<rect x="606" y="178" width="9" height="26" fill="#000"/>
<rect x="618" y="186" width="9" height="1" fill="#000"/>
<rect x="630" y="185" width="9" height="1" fill="#000"/>
<rect x="642" y="181" width="9" height="6" fill="#000"/>
<rect x="643" y="182" width="7" height="4" fill="#fff"/>
<rect x="654" y="193" width="9" height="3" fill="#000"/>
<rect x="655" y="194" width="7" height="1" fill="#fff"/>
<rect x="666" y="186" width="9" height="10" fill="#000"/>
<rect x="678" y="178" width="9" height="9" fill="#000"/>
<rect x="679" y="179" width="7" height="7" fill="#fff"/>
<rect x="690" y="178" width="9" height="18" fill="#000"/>
<rect x="259" y="226" width="1" height="2" fill="#008c00"/>
<rect x="258" y="228" width="3" height="2" fill="#008c00"/>
<rect x="257" y="230" width="5" height="2" fill="#008c00"/>
<rect x="256" y="232" width="7" height="2" fill="#008c00"/>
<rect x="255" y="234" width="9" height="1" fill="#008c00"/>
<rect x="258" y="235" width="3" height="6" fill="#008c00"/>
<rect x="573" y="197" width="1" height="2" fill="#008c00"/>
<rect x="572" y="199" width="3" height="2" fill="#008c00"/>
<rect x="571" y="201" width="5" height="2" fill="#008c00"/>
<rect x="570" y="203" width="7" height="2" fill="#008c00"/>
<rect x="569" y="205" width="9" height="1" fill="#008c00"/>
<rect x="572" y="206" width="3" height="6" fill="#008c00"/>
<rect x="622" y="193" width="1" height="2" fill="#008c00"/>
<rect x="621" y="195" width="3" height="2" fill="#008c00"/>
<rect x="620" y="197" width="5" height="2" fill="#008c00"/>
<rect x="619" y="199" width="7" height="2" fill="#008c00"/>
<rect x="618" y="201" width="9" height="1" fill="#008c00"/>
<rect x="621" y="202" width="3" height="6" fill="#008c00"/>
<rect x="682" y="193" width="1" height="2" fill="#008c00"/>
<rect x="681" y="195" width="3" height="2" fill="#008c00"/>
<rect x="680" y="197" width="5" height="2" fill="#008c00"/>
<rect x="679" y="199" width="7" height="2" fill="#008c00"/>
<rect x="678" y="201" width="9" height="1" fill="#008c00"/>
<rect x="681" y="202" width="3" height="6" fill="#008c00"/>
<rect x="88" y="200" width="3" height="6" fill="#ff0000"/>
<rect x="85" y="206" width="9" height="1" fill="#ff0000"/>
<rect x="86" y="207" width="7" height="2" fill="#ff0000"/>
<rect x="87" y="209" width="5" height="2" fill="#ff0000"/>
<rect x="88" y="211" width="3" height="2" fill="#ff0000"/>
<rect x="89" y="213" width="1" height="2" fill="#ff0000"/>
<rect x="137" y="197" width="3" height="6" fill="#ff0000"/>
<rect x="134" y="203" width="9" height="1" fill="#ff0000"/>
<rect x="135" y="204" width="7" height="2" fill="#ff0000"/>
<rect x="136" y="206" width="5" height="2" fill="#ff0000"/>
<rect x="137" y="208" width="3" height="2" fill="#ff0000"/>
<rect x="138" y="210" width="1" height="2" fill="#ff0000"/>
<rect x="330" y="189" width="3" height="6" fill="#ff0000"/>
<rect x="327" y="195" width="9" height="1" fill="#ff0000"/>
<rect x="328" y="196" width="7" height="2" fill="#ff0000"/>
<rect x="329" y="198" width="5" height="2" fill="#ff0000"/>
<rect x="330" y="200" width="3" height="2" fill="#ff0000"/>
<rect x="331" y="202" width="1" height="2" fill="#ff0000"/>
<rect x="354" y="115" width="3" height="6" fill="#ff0000"/>
<rect x="351" y="121" width="9" height="1" fill="#ff0000"/>
<rect x="352" y="122" width="7" height="2" fill="#ff0000"/>
<rect x="353" y="124" width="5" height="2" fill="#ff0000"/>
<rect x="354" y="126" width="3" height="2" fill="#ff0000"/>
<rect x="355" y="128" width="1" height="2" fill="#ff0000"/>
<rect x="379" y="156" width="3" height="6" fill="#ff0000"/>
<rect x="376" y="162" width="9" height="1" fill="#ff0000"/>
<rect x="377" y="163" width="7" height="2" fill="#ff0000"/>
<rect x="378" y="165" width="5" height="2" fill="#ff0000"/>
<rect x="379" y="167" width="3" height="2" fill="#ff0000"/>
<rect x="380" y="169" width="1" height="2" fill="#ff0000"/>
<rect x="439" y="156" width="3" height="6" fill="#ff0000"/>
<rect x="436" y="162" width="9" height="1" fill="#ff0000"/>
<rect x="437" y="163" width="7" height="2" fill="#ff0000"/>
<rect x="438" y="165" width="5" height="2" fill="#ff0000"/>
<rect x="439" y="167" width="3" height="2" fill="#ff0000"/>
<rect x="440" y="169" width="1" height="2" fill="#ff0000"/>
<rect x="560" y="156" width="3" height="6" fill="#ff0000"/>
<rect x="557" y="162" width="9" height="1" fill="#ff0000"/>
<rect x="558" y="163" width="7" height="2" fill="#ff0000"/>
<rect x="559" y="165" width="5" height="2" fill="#ff0000"/>
<rect x="560" y="167" width="3" height="2" fill="#ff0000"/>
<rect x="561" y="169" width="1" height="2" fill="#ff0000"/>
<rect x="4" y="334" width="1" height="1" fill="#000"/>
<rect x="12" y="334" width="1" height="1" fill="#000"/>
<rect x="20" y="334" width="1" height="1" fill="#000"/>
<rect x="28" y="334" width="1" height="1" fill="#000"/>
<rect x="36" y="334" width="1" height="1" fill="#000"/>
<rect x="44" y="334" width="1" height="1" fill="#000"/>
<rect x="52" y="334" width="1" height="1" fill="#000"/>
<rect x="60" y="334" width="1" height="1" fill="#000"/>
<rect x="68" y="334" width="1" height="1" fill="#000"/>
<rect x="76" y="334" width="1" height="1" fill="#000"/>
<rect x="84" y="334" width="1" height="1" fill="#000"/>
<rect x="92" y="334" width="1" height="1" fill="#000"/>
<rect x="100" y="334" width="1" height="1" fill="#000"/>
<rect x="108" y="334" width="1" height="1" fill="#000"/>
<rect x="116" y="334" width="1" height="1" fill="#000"/>
<rect x="124" y="334" width="1" height="1" fill="#000"/>
<rect x="132" y="334" width="1" height="1" fill="#000"/>
<rect x="140" y="334" width="1" height="1" fill="#000"/>
<rect x="148" y="334" width="1" height="1" fill="#000"/>
<rect x="156" y="334" width="1" height="1" fill="#000"/>
<rect x="164" y="334" width="1" height="1" fill="#000"/>
<rect x="172" y="334" width="1" height="1" fill="#000"/>
<rect x="180" y="334" width="1" height="1" fill="#000"/>
<rect x="188" y="334" width="1" height="1" fill="#000"/>
<rect x="196" y="334" width="1" height="1" fill="#000"/>
<rect x="204" y="334" width="1" height="1" fill="#000"/>
<rect x="212" y="334" width="1" height="1" fill="#000"/>
<rect x="220" y="334" width="1" height="1" fill="#000"/>
<rect x="228" y="334" width="1" height="1" fill="#000"/>
<rect x="236" y="334" width="1" height="1" fill="#000"/>
<rect x="244" y="334" width="1" height="1" fill="#000"/>
<rect x="252" y="334" width="1" height="1" fill="#000"/>
<rect x="260" y="334" width="1" height="1" fill="#000"/>
<rect x="268" y="334" width="1" height="1" fill="#000"/>
<rect x="276" y="334" width="1" height="1" fill="#000"/>
<rect x="284" y="334" width="1" height="1" fill="#000"/>
<rect x="292" y="334" width="1" height="1" fill="#000"/>
<rect x="300" y="334" width="1" height="1" fill="#000"/>
<rect x="308" y="334" width="1" height="1" fill="#000"/>
<rect x="316" y="334" width="1" height="1" fill="#000"/>
<rect x="324" y="334" width="1" height="1" fill="#000"/>
<rect x="332" y="334" width="1" height="1" fill="#000"/>
<rect x="340" y="334" width="1" height="1" fill="#000"/>
<rect x="348" y="334" width="1" height="1" fill="#000"/>
<rect x="356" y="334" width="1" height="1" fill="#000"/>
<rect x="364" y="334" width="1" height="1" fill="#000"/>
<rect x="372" y="334" width="1" height="1" fill="#000"/>
<rect x="380" y="334" width="1" height="1" fill="#000"/>
<rect x="388" y="334" width="1" height="1" fill="#000"/>
<rect x="396" y="334" width="1" height="1" fill="#000"/>
<rect x="404" y="334" width="1" height="1" fill="#000"/>
<rect x="412" y="334" width="1" height="1" fill="#000"/>
<rect x="420" y="334" width="1" height="1" fill="#000"/>
<rect x="428" y="334" width="1" height="1" fill="#000"/>
<rect x="436" y="334" width="1" height="1" fill="#000"/>
<rect x="444" y="334" width="1" height="1" fill="#000"/>
<rect x="452" y="334" width="1" height="1" fill="#000"/>
<rect x="460" y="334" width="1" height="1" fill="#000"/>
<rect x="468" y="334" width="1" height="1" fill="#000"/>
<rect x="476" y="334" width="1" height="1" fill="#000"/>
<rect x="484" y="334" width="1" height="1" fill="#000"/>
<rect x="492" y="334" width="1" height="1" fill="#000"/>
<rect x="500" y="334" width="1" height="1" fill="#000"/>
<rect x="508" y="334" width="1" height="1" fill="#000"/>
<rect x="516" y="334" width="1" height="1" fill="#000"/>
<rect x="524" y="334" width="1" height="1" fill="#000"/>
<rect x="532" y="334" width="1" height="1" fill="#000"/>
<rect x="540" y="334" width="1" height="1" fill="#000"/>
<rect x="548" y="334" width="1" height="1" fill="#000"/>
<rect x="556" y="334" width="1" height="1" fill="#000"/>
<rect x="564" y="334" width="1" height="1" fill="#000"/>
<rect x="572" y="334" width="1" height="1" fill="#000"/>
<rect x="580" y="334" width="1" height="1" fill="#000"/>
<rect x="588" y="334" width="1" height="1" fill="#000"/>
<rect x="596" y="334" width="1" height="1" fill="#000"/>
<rect x="604" y="334" width="1" height="1" fill="#000"/>
<rect x="612" y="334" width="1" height="1" fill="#000"/>
<rect x="620" y="334" width="1" height="1" fill="#000"/>
<rect x="628" y="334" width="1" height="1" fill="#000"/>
<rect x="636" y="334" width="1" height="1" fill="#000"/>
<rect x="644" y="334" width="1" height="1" fill="#000"/>
<rect x="652" y="334" width="1" height="1" fill="#000"/>
<rect x="660" y="334" width="1" height="1" fill="#000"/>
<rect x="668" y="334" width="1" height="1" fill="#000"/>
<rect x="676" y="334" width="1" height="1" fill="#000"/>
<rect x="684" y="334" width="1" height="1" fill="#000"/>
<rect x="692" y="334" width="1" height="1" fill="#000"/>
<rect x="700" y="334" width="1" height="1" fill="#000"/>
<rect x="708" y="334" width="1" height="1" fill="#000"/>
<rect x="716" y="334" width="1" height="1" fill="#000"/>
<rect x="4" y="359" width="1" height="1" fill="#000"/>
<rect x="12" y="359" width="1" height="1" fill="#000"/>
<rect x="20" y="359" width="1" height="1" fill="#000"/>
<rect x="28" y="359" width="1" height="1" fill="#000"/>
<rect x="36" y="359" width="1" height="1" fill="#000"/>
<rect x="44" y="359" width="1" height="1" fill="#000"/>
<rect x="52" y="359" width="1" height="1" fill="#000"/>
<rect x="60" y="359" width="1" height="1" fill="#000"/>
<rect x="68" y="359" width="1" height="1" fill="#000"/>
<rect x="76" y="359" width="1" height="1" fill="#000"/>
<rect x="84" y="359" width="1" height="1" fill="#000"/>
<rect x="92" y="359" width="1" height="1" fill="#000"/>
<rect x="100" y="359" width="1" height="1" fill="#000"/>
<rect x="108" y="359" width="1" height="1" fill="#000"/>
<rect x="116" y="359" width="1" height="1" fill="#000"/>
<rect x="124" y="359" width="1" height="1" fill="#000"/>
<rect x="132" y="359" width="1" height="1" fill="#000"/>
<rect x="140" y="359" width="1" height="1" fill="#000"/>
<rect x="148" y="359" width="1" height="1" fill="#000"/>
<rect x="156" y="359" width="1" height="1" fill="#000"/>
<rect x="164" y="359" width="1" height="1" fill="#000"/>
<rect x="172" y="359" width="1" height="1" fill="#000"/>
<rect x="180" y="359" width="1" height="1" fill="#000"/>
<rect x="188" y="359" width="1" height="1" fill="#000"/>
<rect x="196" y="359" width="1" height="1" fill="#000"/>
<rect x="204" y="359" width="1" height="1" fill="#000"/>
<rect x="212" y="359" width="1" height="1" fill="#000"/>
<rect x="220" y="359" width="1" height="1" fill="#000"/>
<rect x="228" y="359" width="1" height="1" fill="#000"/>
<rect x="236" y="359" width="1" height="1" fill="#000"/>
<rect x="244" y="359" width="1" height="1" fill="#000"/>
<rect x="252" y="359" width="1" height="1" fill="#000"/>
<rect x="260" y="359" width="1" height="1" fill="#000"/>
<rect x="268" y="359" width="1" height="1" fill="#000"/>
<rect x="276" y="359" width="1" height="1" fill="#000"/>
<rect x="284" y="359" width="1" height="1" fill="#000"/>
<rect x="292" y="359" width="1" height="1" fill="#000"/>
<rect x="300" y="359" width="1" height="1" fill="#000"/>
<rect x="308" y="359" width="1" height="1" fill="#000"/>
<rect x="316" y="359" width="1" height="1" fill="#000"/>
<rect x="324" y="359" width="1" height="1" fill="#000"/>
<rect x="332" y="359" width="1" height="1" fill="#000"/>
<rect x="340" y="359" width="1" height="1" fill="#000"/>
<rect x="348" y="359" width="1" height="1" fill="#000"/>
<rect x="356" y="359" width="1" height="1" fill="#000"/>
<rect x="364" y="359" width="1" height="1" fill="#000"/>
<rect x="372" y="359" width="1" height="1" fill="#000"/>
<rect x="380" y="359" width="1" height="1" fill="#000"/>
<rect x="388" y="359" width="1" height="1" fill="#000"/>
<rect x="396" y="359" width="1" height="1" fill="#000"/>
<rect x="404" y="359" width="1" height="1" fill="#000"/>
<rect x="412" y="359" width="1" height="1" fill="#000"/>
<rect x="420" y="359" width="1" height="1" fill="#000"/>
<rect x="428" y="359" width="1" height="1" fill="#000"/>
<rect x="436" y="359" width="1" height="1" fill="#000"/>
<rect x="444" y="359" width="1" height="1" fill="#000"/>
<rect x="452" y="359" width="1" height="1" fill="#000"/>
<rect x="460" y="359" width="1" height="1" fill="#000"/>
<rect x="468" y="359" width="1" height="1" fill="#000"/>
<rect x="476" y="359" width="1" height="1" fill="#000"/>
<rect x="484" y="359" width="1" height="1" fill="#000"/>
<rect x="492" y="359" width="1" height="1" fill="#000"/>
<rect x="500" y="359" width="1" height="1" fill="#000"/>
<rect x="508" y="359" width="1" height="1" fill="#000"/>
<rect x="516" y="359" width="1" height="1" fill="#000"/>
<rect x="524" y="359" width="1" height="1" fill="#000"/>
<rect x="532" y="359" width="1" height="1" fill="#000"/>
<rect x="540" y="359" width="1" height="1" fill="#000"/>
<rect x="548" y="359" width="1" height="1" fill="#000"/>
<rect x="556" y="359" width="1" height="1" fill="#000"/>
<rect x="564" y="359" width="1" height="1" fill="#000"/>
<rect x="572" y="359" width="1" height="1" fill="#000"/>
<rect x="580" y="359" width="1" height="1" fill="#000"/>
<rect x="588" y="359" width="1" height="1" fill="#000"/>
<rect x="596" y="359" width="1" height="1" fill="#000"/>
<rect x="604" y="359" width="1" height="1" fill="#000"/>
<rect x="612" y="359" width="1" height="1" fill="#000"/>
<rect x="620" y="359" width="1" height="1" fill="#000"/>
<rect x="628" y="359" width="1" height="1" fill="#000"/>
<rect x="636" y="359" width="1" height="1" fill="#000"/>
<rect x="644" y="359" width="1" height="1" fill="#000"/>
<rect x="652" y="359" width="1" height="1" fill="#000"/>
<rect x="660" y="359" width="1" height="1" fill="#000"/>
<rect x="668" y="359" width="1" height="1" fill="#000"/>
<rect x="676" y="359" width="1" height="1" fill="#000"/>
<rect x="684" y="359" width="1" height="1" fill="#000"/>
<rect x="692" y="359" width="1" height="1" fill="#000"/>
<rect x="700" y="359" width="1" height="1" fill="#000"/>
<rect x="708" y="359" width="1" height="1" fill="#000"/>
<rect x="716" y="359" width="1" height="1" fill="#000"/>
<rect x="4" y="384" width="1" height="1" fill="#000"/>
<rect x="12" y="384" width="1" height="1" fill="#000"/>
<rect x="20" y="384" width="1" height="1" fill="#000"/>
<rect x="28" y="384" width="1" height="1" fill="#000"/>
<rect x="36" y="384" width="1" height="1" fill="#000"/>
<rect x="44" y="384" width="1" height="1" fill="#000"/>
<rect x="52" y="384" width="1" height="1" fill="#000"/>
<rect x="60" y="384" width="1" height="1" fill="#000"/>
<rect x="68" y="384" width="1" height="1" fill="#000"/>
<rect x="76" y="384" width="1" height="1" fill="#000"/>
<rect x="84" y="384" width="1" height="1" fill="#000"/>
<rect x="92" y="384" width="1" height="1" fill="#000"/>
<rect x="100" y="384" width="1" height="1" fill="#000"/>
<rect x="108" y="384" width="1" height="1" fill="#000"/>
<rect x="116" y="384" width="1" height="1" fill="#000"/>
<rect x="124" y="384" width="1" height="1" fill="#000"/>
<rect x="132" y="384" width="1" height="1" fill="#000"/>
<rect x="140" y="384" width="1" height="1" fill="#000"/>
<rect x="148" y="384" width="1" height="1" fill="#000"/>
<rect x="156" y="384" width="1" height="1" fill="#000"/>
<rect x="164" y="384" width="1" height="1" fill="#000"/>
<rect x="172" y="384" width="1" height="1" fill="#000"/>
<rect x="180" y="384" width="1" height="1" fill="#000"/>
<rect x="188" y="384" width="1" height="1" fill="#000"/>
<rect x="196" y="384" width="1" height="1" fill="#000"/>
<rect x="204" y="384" width="1" height="1" fill="#000"/>
<rect x="212" y="384" width="1" height="1" fill="#000"/>
<rect x="220" y="384" width="1" height="1" fill="#000"/>
<rect x="228" y="384" width="1" height="1" fill="#000"/>
<rect x="236" y="384" width="1" height="1" fill="#000"/>
<rect x="244" y="384" width="1" height="1" fill="#000"/>
<rect x="252" y="384" width="1" height="1" fill="#000"/>
<rect x="260" y="384" width="1" height="1" fill="#000"/>
<rect x="268" y="384" width="1" height="1" fill="#000"/>
<rect x="276" y="384" width="1" height="1" fill="#000"/>
<rect x="284" y="384" width="1" height="1" fill="#000"/>
<rect x="292" y="384" width="1" height="1" fill="#000"/>
<rect x="300" y="384" width="1" height="1" fill="#000"/>
<rect x="308" y="384" width="1" height="1" fill="#000"/>
<rect x="316" y="384" width="1" height="1" fill="#000"/>
<rect x="324" y="384" width="1" height="1" fill="#000"/>
<rect x="332" y="384" width="1" height="1" fill="#000"/>
<rect x="340" y="384" width="1" height="1" fill="#000"/>
<rect x="348" y="384" width="1" height="1" fill="#000"/>
<rect x="356" y="384" width="1" height="1" fill="#000"/>
<rect x="364" y="384" width="1" height="1" fill="#000"/>
<rect x="372" y="384" width="1" height="1" fill="#000"/>
<rect x="380" y="384" width="1" height="1" fill="#000"/>
<rect x="388" y="384" width="1" height="1" fill="#000"/>
<rect x="396" y="384" width="1" height="1" fill="#000"/>
<rect x="404" y="384" width="1" height="1" fill="#000"/>
<rect x="412" y="384" width="1" height="1" fill="#000"/>
<rect x="420" y="384" width="1" height="1" fill="#000"/>
<rect x="428" y="384" width="1" height="1" fill="#000"/>
<rect x="436" y="384" width="1" height="1" fill="#000"/>
<rect x="444" y="384" width="1" height="1" fill="#000"/>
<rect x="452" y="384" width="1" height="1" fill="#000"/>
<rect x="460" y="384" width="1" height="1" fill="#000"/>
<rect x="468" y="384" width="1" height="1" fill="#000"/>
<rect x="476" y="384" width="1" height="1" fill="#000"/>
<rect x="484" y="384" width="1" height="1" fill="#000"/>
<rect x="492" y="384" width="1" height="1" fill="#000"/>
<rect x="500" y="384" width="1" height="1" fill="#000"/>
<rect x="508" y="384" width="1" height="1" fill="#000"/>
<rect x="516" y="384" width="1" height="1" fill="#000"/>
<rect x="524" y="384" width="1" height="1" fill="#000"/>
<rect x="532" y="384" width="1" height="1" fill="#000"/>
<rect x="540" y="384" width="1" height="1" fill="#000"/>
<rect x="548" y="384" width="1" height="1" fill="#000"/>
<rect x="556" y="384" width="1" height="1" fill="#000"/>
<rect x="564" y="384" width="1" height="1" fill="#000"/>
<rect x="572" y="384" width="1" height="1" fill="#000"/>
<rect x="580" y="384" width="1" height="1" fill="#000"/>
<rect x="588" y="384" width="1" height="1" fill="#000"/>
<rect x="596" y="384" width="1" height="1" fill="#000"/>
<rect x="604" y="384" width="1" height="1" fill="#000"/>
<rect x="612" y="384" width="1" height="1" fill="#000"/>
<rect x="620" y="384" width="1" height="1" fill="#000"/>
<rect x="628" y="384" width="1" height="1" fill="#000"/>
<rect x="636" y="384" width="1" height="1" fill="#000"/>
<rect x="644" y="384" width="1" height="1" fill="#000"/>
<rect x="652" y="384" width="1" height="1" fill="#000"/>
<rect x="660" y="384" width="1" height="1" fill="#000"/>
<rect x="668" y="384" width="1" height="1" fill="#000"/>
<rect x="676" y="384" width="1" height="1" fill="#000"/>
<rect x="684" y="384" width="1" height="1" fill="#000"/>
<rect x="692" y="384" width="1" height="1" fill="#000"/>
<rect x="700" y="384" width="1" height="1" fill="#000"/>
<rect x="708" y="384" width="1" height="1" fill="#000"/>
<rect x="716" y="384" width="1" height="1" fill="#000"/>
<polyline points="210.5,385.5 220.5,384.5 229.5,386.5 236.5,388.5 247.5,390.5 277.5,390.5 280.5,388.5 301.5,388.5 302.5,387.5 337.5,387.5 338.5,386.5 597.5,386.5 610.5,400.5 693.9,400.5" fill="none" stroke="#000" stroke-width="1"/>
<polyline points="210.5,385.5 220.5,383.5 240.5,383.5 250.5,384.5 256.5,383.5 271.5,376.5 283.5,360.5 295.5,358.5 307.5,344.5 319.5,336.5 331.5,336.5 343.5,330.5 351.5,328.5 359.5,327.5 366.5,326.5 604.5,326.5 605.5,327.5 693.9,327.5" fill="none" stroke="#000" stroke-width="1"/>
<polyline points="295.5,372.5 308.5,361.5 318.5,353.5 331.5,351.5 341.5,343.5 354.5,338.5 366.5,334.5 374.5,334.5 388.5,335.5 395.5,336.5 406.5,338.5 418.5,342.5 427.5,344.5 441.5,350.5 456.5,356.5 475.5,364.5 489.5,367.5 501.5,365.5 515.5,355.5 524.5,349.5 537.5,343.5 549.5,341.5 561.5,347.5 573.5,353.5 587.5,364.5 598.5,370.5 611.5,382.5 621.5,386.5 629.5,387.5 635.5,387.5 646.5,384.5 661.5,384.5 669.5,386.5 676.5,384.5 682.5,381.5 693.9,381.5" fill="none" stroke="#0000ff" stroke-width="1"/>
<polyline points="210.5,385.5 220.5,383.5 224.5,383.5 229.5,386.5 236.5,388.5 247.5,390.5 257.5,382.5 271.5,375.5 283.5,358.5 295.5,357.5 308.5,343.5 319.5,333.5 331.5,335.5 342.5,328.5 350.5,324.5 358.5,323.5 366.5,323.5 372.5,325.5 380.5,331.5 388.5,335.5 395.5,338.5 403.5,342.5 413.5,345.5 426.5,349.5 435.5,354.5 449.5,364.5 466.5,372.5 476.5,375.5 489.5,378.5 501.5,369.5 509.5,352.5 513.5,347.5 525.5,333.5 538.5,327.5 549.5,330.5 559.5,349.5 571.5,363.5 585.5,380.5 595.5,386.5 601.5,390.5 610.5,404.5 622.5,404.5 630.5,400.5 637.5,395.5 646.5,384.5 652.5,383.5 660.5,383.5 669.5,386.5 676.5,382.5 683.5,378.5 693.9,378.5" fill="none" stroke="#ff0000" stroke-width="1"/>
<rect x="4" y="445" width="1" height="1" fill="#000"/>
<rect x="12" y="445" width="1" height="1" fill="#000"/>
<rect x="20" y="445" width="1" height="1" fill="#000"/>
<rect x="28" y="445" width="1" height="1" fill="#000"/>
<rect x="36" y="445" width="1" height="1" fill="#000"/>
<rect x="44" y="445" width="1" height="1" fill="#000"/>
<rect x="52" y="445" width="1" height="1" fill="#000"/>
<rect x="60" y="445" width="1" height="1" fill="#000"/>
<rect x="68" y="445" width="1" height="1" fill="#000"/>
<rect x="76" y="445" width="1" height="1" fill="#000"/>
<rect x="84" y="445" width="1" height="1" fill="#000"/>
<rect x="92" y="445" width="1" height="1" fill="#000"/>
<rect x="100" y="445" width="1" height="1" fill="#000"/>
<rect x="108" y="445" width="1" height="1" fill="#000"/>
<rect x="116" y="445" width="1" height="1" fill="#000"/>
<rect x="124" y="445" width="1" height="1" fill="#000"/>
<rect x="132" y="445" width="1" height="1" fill="#000"/>
<rect x="140" y="445" width="1" height="1" fill="#000"/>
<rect x="148" y="445" width="1" height="1" fill="#000"/>
<rect x="156" y="445" width="1" height="1" fill="#000"/>
<rect x="164" y="445" width="1" height="1" fill="#000"/>
<rect x="172" y="445" width="1" height="1" fill="#000"/>
<rect x="180" y="445" width="1" height="1" fill="#000"/>
<rect x="188" y="445" width="1" height="1" fill="#000"/>
<rect x="196" y="445" width="1" height="1" fill="#000"/>
<rect x="204" y="445" width="1" height="1" fill="#000"/>
<rect x="212" y="445" width="1" height="1" fill="#000"/>
<rect x="220" y="445" width="1" height="1" fill="#000"/>
<rect x="228" y="445" width="1" height="1" fill="#000"/>
<rect x="236" y="445" width="1" height="1" fill="#000"/>
<rect x="244" y="445" width="1" height="1" fill="#000"/>
<rect x="252" y="445" width="1" height="1" fill="#000"/>
<rect x="260" y="445" width="1" height="1" fill="#000"/>
<rect x="268" y="445" width="1" height="1" fill="#000"/>
<rect x="276" y="445" width="1" height="1" fill="#000"/>
<rect x="284" y="445" width="1" height="1" fill="#000"/>
<rect x="292" y="445" width="1" height="1" fill="#000"/>
<rect x="300" y="445" width="1" height="1" fill="#000"/>
<rect x="308" y="445" width="1" height="1" fill="#000"/>
<rect x="316" y="445" width="1" height="1" fill="#000"/>
<rect x="324" y="445" width="1" height="1" fill="#000"/>
<rect x="332" y="445" width="1" height="1" fill="#000"/>
<rect x="340" y="445" width="1" height="1" fill="#000"/>
<rect x="348" y="445" width="1" height="1" fill="#000"/>
<rect x="356" y="445" width="1" height="1" fill="#000"/>
<rect x="364" y="445" width="1" height="1" fill="#000"/>
<rect x="372" y="445" width="1" height="1" fill="#000"/>
<rect x="380" y="445" width="1" height="1" fill="#000"/>
<rect x="388" y="445" width="1" height="1" fill="#000"/>
<rect x="396" y="445" width="1" height="1" fill="#000"/>
<rect x="404" y="445" width="1" height="1" fill="#000"/>
<rect x="412" y="445" width="1" height="1" fill="#000"/>
<rect x="420" y="445" width="1" height="1" fill="#000"/>
<rect x="428" y="445" width="1" height="1" fill="#000"/>
<rect x="436" y="445" width="1" height="1" fill="#000"/>
<rect x="444" y="445" width="1" height="1" fill="#000"/>
<rect x="452" y="445" width="1" height="1" fill="#000"/>
<rect x="460" y="445" width="1" height="1" fill="#000"/>
<rect x="468" y="445" width="1" height="1" fill="#000"/>
<rect x="476" y="445" width="1" height="1" fill="#000"/>
<rect x="484" y="445" width="1" height="1" fill="#000"/>
<rect x="492" y="445" width="1" height="1" fill="#000"/>
<rect x="500" y="445" width="1" height="1" fill="#000"/>
<rect x="508" y="445" width="1" height="1" fill="#000"/>
<rect x="516" y="445" width="1" height="1" fill="#000"/>
<rect x="524" y="445" width="1" height="1" fill="#000"/>
<rect x="532" y="445" width="1" height="1" fill="#000"/>
<rect x="540" y="445" width="1" height="1" fill="#000"/>
<rect x="548" y="445" width="1" height="1" fill="#000"/>
<rect x="556" y="445" width="1" height="1" fill="#000"/>
<rect x="564" y="445" width="1" height="1" fill="#000"/>
<rect x="572" y="445" width="1" height="1" fill="#000"/>
<rect x="580" y="445" width="1" height="1" fill="#000"/>
<rect x="588" y="445" width="1" height="1" fill="#000"/>
<rect x="596" y="445" width="1" height="1" fill="#000"/>
<rect x="604" y="445" width="1" height="1" fill="#000"/>
<rect x="612" y="445" width="1" height="1" fill="#000"/>
<rect x="620" y="445" width="1" height="1" fill="#000"/>
<rect x="628" y="445" width="1" height="1" fill="#000"/>
<rect x="636" y="445" width="1" height="1" fill="#000"/>
<rect x="644" y="445" width="1" height="1" fill="#000"/>
<rect x="652" y="445" width="1" height="1" fill="#000"/>
<rect x="660" y="445" width="1" height="1" fill="#000"/>
<rect x="668" y="445" width="1" height="1" fill="#000"/>
<rect x="676" y="445" width="1" height="1" fill="#000"/>
<rect x="684" y="445" width="1" height="1" fill="#000"/>
<rect x="692" y="445" width="1" height="1" fill="#000"/>
<rect x="700" y="445" width="1" height="1" fill="#000"/>
<rect x="708" y="445" width="1" height="1" fill="#000"/>
<rect x="716" y="445" width="1" height="1" fill="#000"/>
<rect x="4" y="496" width="1" height="1" fill="#000"/>
<rect x="12" y="496" width="1" height="1" fill="#000"/>
<rect x="20" y="496" width="1" height="1" fill="#000"/>
<rect x="28" y="496" width="1" height="1" fill="#000"/>
<rect x="36" y="496" width="1" height="1" fill="#000"/>
<rect x="44" y="496" width="1" height="1" fill="#000"/>
<rect x="52" y="496" width="1" height="1" fill="#000"/>
<rect x="60" y="496" width="1" height="1" fill="#000"/>
<rect x="68" y="496" width="1" height="1" fill="#000"/>
<rect x="76" y="496" width="1" height="1" fill="#000"/>
<rect x="84" y="496" width="1" height="1" fill="#000"/>
<rect x="92" y="496" width="1" height="1" fill="#000"/>
<rect x="100" y="496" width="1" height="1" fill="#000"/>
<rect x="108" y="496" width="1" height="1" fill="#000"/>
<rect x="116" y="496" width="1" height="1" fill="#000"/>
<rect x="124" y="496" width="1" height="1" fill="#000"/>
<rect x="132" y="496" width="1" height="1" fill="#000"/>
<rect x="140" y="496" width="1" height="1" fill="#000"/>
<rect x="148" y="496" width="1" height="1" fill="#000"/>
<rect x="156" y="496" width="1" height="1" fill="#000"/>
<rect x="164" y="496" width="1" height="1" fill="#000"/>
<rect x="172" y="496" width="1" height="1" fill="#000"/>
<rect x="180" y="496" width="1" height="1" fill="#000"/>
<rect x="188" y="496" width="1" height="1" fill="#000"/>
<rect x="196" y="496" width="1" height="1" fill="#000"/>
<rect x="204" y="496" width="1" height="1" fill="#000"/>
<rect x="212" y="496" width="1" height="1" fill="#000"/>
<rect x="220" y="496" width="1" height="1" fill="#000"/>
<rect x="228" y="496" width="1" height="1" fill="#000"/>
<rect x="236" y="496" width="1" height="1" fill="#000"/>
<rect x="244" y="496" width="1" height="1" fill="#000"/>
<rect x="252" y="496" width="1" height="1" fill="#000"/>
<rect x="260" y="496" width="1" height="1" fill="#000"/>
<rect x="268" y="496" width="1" height="1" fill="#000"/>
<rect x="276" y="496" width="1" height="1" fill="#000"/>
<rect x="284" y="496" width="1" height="1" fill="#000"/>
<rect x="292" y="496" width="1" height="1" fill="#000"/>
<rect x="300" y="496" width="1" height="1" fill="#000"/>
<rect x="308" y="496" width="1" height="1" fill="#000"/>
<rect x="316" y="496" width="1" height="1" fill="#000"/>
<rect x="324" y="496" width="1" height="1" fill="#000"/>
<rect x="332" y="496" width="1" height="1" fill="#000"/>
<rect x="340" y="496" width="1" height="1" fill="#000"/>
<rect x="348" y="496" width="1" height="1" fill="#000"/>
<rect x="356" y="496" width="1" height="1" fill="#000"/>
<rect x="364" y="496" width="1" height="1" fill="#000"/>
<rect x="372" y="496" width="1" height="1" fill="#000"/>
<rect x="380" y="496" width="1" height="1" fill="#000"/>
<rect x="388" y="496" width="1" height="1" fill="#000"/>
<rect x="396" y="496" width="1" height="1" fill="#000"/>
<rect x="404" y="496" width="1" height="1" fill="#000"/>
<rect x="412" y="496" width="1" height="1" fill="#000"/>
<rect x="420" y="496" width="1" height="1" fill="#000"/>
<rect x="428" y="496" width="1" height="1" fill="#000"/>
<rect x="436" y="496" width="1" height="1" fill="#000"/>
<rect x="444" y="496" width="1" height="1" fill="#000"/>
<rect x="452" y="496" width="1" height="1" fill="#000"/>
<rect x="460" y="496" width="1" height="1" fill="#000"/>
<rect x="468" y="496" width="1" height="1" fill="#000"/>
<rect x="476" y="496" width="1" height="1" fill="#000"/>
<rect x="484" y="496" width="1" height="1" fill="#000"/>
<rect x="492" y="496" width="1" height="1" fill="#000"/>
<rect x="500" y="496" width="1" height="1" fill="#000"/>
<rect x="508" y="496" width="1" height="1" fill="#000"/>
<rect x="516" y="496" width="1" height="1" fill="#000"/>
<rect x="524" y="496" width="1" height="1" fill="#000"/>
<rect x="532" y="496" width="1" height="1" fill="#000"/>
<rect x="540" y="496" width="1" height="1" fill="#000"/>
<rect x="548" y="496" width="1" height="1" fill="#000"/>
<rect x="556" y="496" width="1" height="1" fill="#000"/>
<rect x="564" y="496" width="1" height="1" fill="#000"/>
<rect x="572" y="496" width="1" height="1" fill="#000"/>
<rect x="580" y="496" width="1" height="1" fill="#000"/>
<rect x="588" y="496" width="1" height="1" fill="#000"/>
<rect x="596" y="496" width="1" height="1" fill="#000"/>
<rect x="604" y="496" width="1" height="1" fill="#000"/>
<rect x="612" y="496" width="1" height="1" fill="#000"/>
<rect x="620" y="496" width="1" height="1" fill="#000"/>
<rect x="628" y="496" width="1" height="1" fill="#000"/>
<rect x="636" y="496" width="1" height="1" fill="#000"/>
<rect x="644" y="496" width="1" height="1" fill="#000"/>
<rect x="652" y="496" width="1" height="1" fill="#000"/>
<rect x="660" y="496" width="1" height="1" fill="#000"/>
<rect x="668" y="496" width="1" height="1" fill="#000"/>
<rect x="676" y="496" width="1" height="1" fill="#000"/>
<rect x="684" y="496" width="1" height="1" fill="#000"/>
<rect x="692" y="496" width="1" height="1" fill="#000"/>
<rect x="700" y="496" width="1" height="1" fill="#000"/>
<rect x="708" y="496" width="1" height="1" fill="#000"/>
<rect x="716" y="496" width="1" height="1" fill="#000"/>
<rect x="4" y="548" width="1" height="1" fill="#000"/>
<rect x="12" y="548" width="1" height="1" fill="#000"/>
<rect x="20" y="548" width="1" height="1" fill="#000"/>
<rect x="28" y="548" width="1" height="1" fill="#000"/>
<rect x="36" y="548" width="1" height="1" fill="#000"/>
<rect x="44" y="548" width="1" height="1" fill="#000"/>
<rect x="52" y="548" width="1" height="1" fill="#000"/>
<rect x="60" y="548" width="1" height="1" fill="#000"/>
<rect x="68" y="548" width="1" height="1" fill="#000"/>
<rect x="76" y="548" width="1" height="1" fill="#000"/>
<rect x="84" y="548" width="1" height="1" fill="#000"/>
<rect x="92" y="548" width="1" height="1" fill="#000"/>
<rect x="100" y="548" width="1" height="1" fill="#000"/>
<rect x="108" y="548" width="1" height="1" fill="#000"/>
<rect x="116" y="548" width="1" height="1" fill="#000"/>
<rect x="124" y="548" width="1" height="1" fill="#000"/>
<rect x="132" y="548" width="1" height="1" fill="#000"/>
<rect x="140" y="548" width="1" height="1" fill="#000"/>
<rect x="148" y="548" width="1" height="1" fill="#000"/>
<rect x="156" y="548" width="1" height="1" fill="#000"/>
<rect x="164" y="548" width="1" height="1" fill="#000"/>
<rect x="172" y="548" width="1" height="1" fill="#000"/>
<rect x="180" y="548" width="1" height="1" fill="#000"/>
<rect x="188" y="548" width="1" height="1" fill="#000"/>
<rect x="196" y="548" width="1" height="1" fill="#000"/>
<rect x="204" y="548" width="1" height="1" fill="#000"/>
<rect x="212" y="548" width="1" height="1" fill="#000"/>
<rect x="220" y="548" width="1" height="1" fill="#000"/>
<rect x="228" y="548" width="1" height="1" fill="#000"/>
<rect x="236" y="548" width="1" height="1" fill="#000"/>
<rect x="244" y="548" width="1" height="1" fill="#000"/>
<rect x="252" y="548" width="1" height="1" fill="#000"/>
<rect x="260" y="548" width="1" height="1" fill="#000"/>
<rect x="268" y="548" width="1" height="1" fill="#000"/>
<rect x="276" y="548" width="1" height="1" fill="#000"/>
<rect x="284" y="548" width="1" height="1" fill="#000"/>
<rect x="292" y="548" width="1" height="1" fill="#000"/>
<rect x="300" y="548" width="1" height="1" fill="#000"/>
<rect x="308" y="548" width="1" height="1" fill="#000"/>
<rect x="316" y="548" width="1" height="1" fill="#000"/>
<rect x="324" y="548" width="1" height="1" fill="#000"/>
<rect x="332" y="548" width="1" height="1" fill="#000"/>
<rect x="340" y="548" width="1" height="1" fill="#000"/>
<rect x="348" y="548" width="1" height="1" fill="#000"/>
<rect x="356" y="548" width="1" height="1" fill="#000"/>
<rect x="364" y="548" width="1" height="1" fill="#000"/>
<rect x="372" y="548" width="1" height="1" fill="#000"/>
<rect x="380" y="548" width="1" height="1" fill="#000"/>
<rect x="388" y="548" width="1" height="1" fill="#000"/>
<rect x="396" y="548" width="1" height="1" fill="#000"/>
<rect x="404" y="548" width="1" height="1" fill="#000"/>
<rect x="412" y="548" width="1" height="1" fill="#000"/>
<rect x="420" y="548" width="1" height="1" fill="#000"/>
<rect x="428" y="548" width="1" height="1" fill="#000"/>
<rect x="436" y="548" width="1" height="1" fill="#000"/>
<rect x="444" y="548" width="1" height="1" fill="#000"/>
<rect x="452" y="548" width="1" height="1" fill="#000"/>
<rect x="460" y="548" width="1" height="1" fill="#000"/>
<rect x="468" y="548" width="1" height="1" fill="#000"/>
<rect x="476" y="548" width="1" height="1" fill="#000"/>
<rect x="484" y="548" width="1" height="1" fill="#000"/>
<rect x="492" y="548" width="1" height="1" fill="#000"/>
<rect x="500" y="548" width="1" height="1" fill="#000"/>
<rect x="508" y="548" width="1" height="1" fill="#000"/>
<rect x="516" y="548" width="1" height="1" fill="#000"/>
<rect x="524" y="548" width="1" height="1" fill="#000"/>
<rect x="532" y="548" width="1" height="1" fill="#000"/>
<rect x="540" y="548" width="1" height="1" fill="#000"/>
<rect x="548" y="548" width="1" height="1" fill="#000"/>
<rect x="556" y="548" width="1" height="1" fill="#000"/>
<rect x="564" y="548" width="1" height="1" fill="#000"/>
<rect x="572" y="548" width="1" height="1" fill="#000"/>
<rect x="580" y="548" width="1" height="1" fill="#000"/>
<rect x="588" y="548" width="1" height="1" fill="#000"/>
<rect x="596" y="548" width="1" height="1" fill="#000"/>
<rect x="604" y="548" width="1" height="1" fill="#000"/>
<rect x="612" y="548" width="1" height="1" fill="#000"/>
<rect x="620" y="548" width="1" height="1" fill="#000"/>
<rect x="628" y="548" width="1" height="1" fill="#000"/>
<rect x="636" y="548" width="1" height="1" fill="#000"/>
<rect x="644" y="548" width="1" height="1" fill="#000"/>
<rect x="652" y="548" width="1" height="1" fill="#000"/>
<rect x="660" y="548" width="1" height="1" fill="#000"/>
<rect x="668" y="548" width="1" height="1" fill="#000"/>
<rect x="676" y="548" width="1" height="1" fill="#000"/>
<rect x="684" y="548" width="1" height="1" fill="#000"/>
<rect x="692" y="548" width="1" height="1" fill="#000"/>
<rect x="700" y="548" width="1" height="1" fill="#000"/>
<rect x="708" y="548" width="1" height="1" fill="#000"/>
<rect x="716" y="548" width="1" height="1" fill="#000"/>
<rect x="4" y="599" width="1" height="1" fill="#000"/>
<rect x="12" y="599" width="1" height="1" fill="#000"/>
<rect x="20" y="599" width="1" height="1" fill="#000"/>
<rect x="28" y="599" width="1" height="1" fill="#000"/>
<rect x="36" y="599" width="1" height="1" fill="#000"/>
<rect x="44" y="599" width="1" height="1" fill="#000"/>
<rect x="52" y="599" width="1" height="1" fill="#000"/>
<rect x="60" y="599" width="1" height="1" fill="#000"/>
<rect x="68" y="599" width="1" height="1" fill="#000"/>
<rect x="76" y="599" width="1" height="1" fill="#000"/>
<rect x="84" y="599" width="1" height="1" fill="#000"/>
<rect x="92" y="599" width="1" height="1" fill="#000"/>
<rect x="100" y="599" width="1" height="1" fill="#000"/>
<rect x="108" y="599" width="1" height="1" fill="#000"/>
<rect x="116" y="599" width="1" height="1" fill="#000"/>
<rect x="124" y="599" width="1" height="1" fill="#000"/>
<rect x="132" y="599" width="1" height="1" fill="#000"/>
<rect x="140" y="599" width="1" height="1" fill="#000"/>
<rect x="148" y="599" width="1" height="1" fill="#000"/>
<rect x="156" y="599" width="1" height="1" fill="#000"/>
<rect x="164" y="599" width="1" height="1" fill="#000"/>
<rect x="172" y="599" width="1" height="1" fill="#000"/>
<rect x="180" y="599" width="1" height="1" fill="#000"/>
<rect x="188" y="599" width="1" height="1" fill="#000"/>
<rect x="196" y="599" width="1" height="1" fill="#000"/>
<rect x="204" y="599" width="1" height="1" fill="#000"/>
<rect x="212" y="599" width="1" height="1" fill="#000"/>
<rect x="220" y="599" width="1" height="1" fill="#000"/>
<rect x="228" y="599" width="1" height="1" fill="#000"/>
<rect x="236" y="599" width="1" height="1" fill="#000"/>
<rect x="244" y="599" width="1" height="1" fill="#000"/>
<rect x="252" y="599" width="1" height="1" fill="#000"/>
<rect x="260" y="599" width="1" height="1" fill="#000"/>
<rect x="268" y="599" width="1" height="1" fill="#000"/>
<rect x="276" y="599" width="1" height="1" fill="#000"/>
<rect x="284" y="599" width="1" height="1" fill="#000"/>
<rect x="292" y="599" width="1" height="1" fill="#000"/>
<rect x="300" y="599" width="1" height="1" fill="#000"/>
<rect x="308" y="599" width="1" height="1" fill="#000"/>
<rect x="316" y="599" width="1" height="1" fill="#000"/>
<rect x="324" y="599" width="1" height="1" fill="#000"/>
<rect x="332" y="599" width="1" height="1" fill="#000"/>
<rect x="340" y="599" width="1" height="1" fill="#000"/>
<rect x="348" y="599" width="1" height="1" fill="#000"/>
<rect x="356" y="599" width="1" height="1" fill="#000"/>
<rect x="364" y="599" width="1" height="1" fill="#000"/>
<rect x="372" y="599" width="1" height="1" fill="#000"/>
<rect x="380" y="599" width="1" height="1" fill="#000"/>
<rect x="388" y="599" width="1" height="1" fill="#000"/>
<rect x="396" y="599" width="1" height="1" fill="#000"/>
<rect x="404" y="599" width="1" height="1" fill="#000"/>
<rect x="412" y="599" width="1" height="1" fill="#000"/>
<rect x="420" y="599" width="1" height="1" fill="#000"/>
<rect x="428" y="599" width="1" height="1" fill="#000"/>
<rect x="436" y="599" width="1" height="1" fill="#000"/>
<rect x="444" y="599" width="1" height="1" fill="#000"/>
<rect x="452" y="599" width="1" height="1" fill="#000"/>
<rect x="460" y="599" width="1" height="1" fill="#000"/>
<rect x="468" y="599" width="1" height="1" fill="#000"/>
<rect x="476" y="599" width="1" height="1" fill="#000"/>
<rect x="484" y="599" width="1" height="1" fill="#000"/>
<rect x="492" y="599" width="1" height="1" fill="#000"/>
<rect x="500" y="599" width="1" height="1" fill="#000"/>
<rect x="508" y="599" width="1" height="1" fill="#000"/>
<rect x="516" y="599" width="1" height="1" fill="#000"/>
<rect x="524" y="599" width="1" height="1" fill="#000"/>
<rect x="532" y="599" width="1" height="1" fill="#000"/>
<rect x="540" y="599" width="1" height="1" fill="#000"/>
<rect x="548" y="599" width="1" height="1" fill="#000"/>
<rect x="556" y="599" width="1" height="1" fill="#000"/>
<rect x="564" y="599" width="1" height="1" fill="#000"/>
<rect x="572" y="599" width="1" height="1" fill="#000"/>
<rect x="580" y="599" width="1" height="1" fill="#000"/>
<rect x="588" y="599" width="1" height="1" fill="#000"/>
<rect x="596" y="599" width="1" height="1" fill="#000"/>
<rect x="604" y="599" width="1" height="1" fill="#000"/>
<rect x="612" y="599" width="1" height="1" fill="#000"/>
<rect x="620" y="599" width="1" height="1" fill="#000"/>
<rect x="628" y="599" width="1" height="1" fill="#000"/>
<rect x="636" y="599" width="1" height="1" fill="#000"/>
<rect x="644" y="599" width="1" height="1" fill="#000"/>
<rect x="652" y="599" width="1" height="1" fill="#000"/>
<rect x="660" y="599" width="1" height="1" fill="#000"/>
<rect x="668" y="599" width="1" height="1" fill="#000"/>
<rect x="676" y="599" width="1" height="1" fill="#000"/>
<rect x="684" y="599" width="1" height="1" fill="#000"/>
<rect x="692" y="599" width="1" height="1" fill="#000"/>
<rect x="700" y="599" width="1" height="1" fill="#000"/>
<rect x="708" y="599" width="1" height="1" fill="#000"/>
<rect x="716" y="599" width="1" height="1" fill="#000"/>
<rect x="4" y="650" width="1" height="1" fill="#000"/>
<rect x="12" y="650" width="1" height="1" fill="#000"/>
<rect x="20" y="650" width="1" height="1" fill="#000"/>
<rect x="28" y="650" width="1" height="1" fill="#000"/>
<rect x="36" y="650" width="1" height="1" fill="#000"/>
<rect x="44" y="650" width="1" height="1" fill="#000"/>
<rect x="52" y="650" width="1" height="1" fill="#000"/>
<rect x="60" y="650" width="1" height="1" fill="#000"/>
<rect x="68" y="650" width="1" height="1" fill="#000"/>
<rect x="76" y="650" width="1" height="1" fill="#000"/>
<rect x="84" y="650" width="1" height="1" fill="#000"/>
<rect x="92" y="650" width="1" height="1" fill="#000"/>
<rect x="100" y="650" width="1" height="1" fill="#000"/>
<rect x="108" y="650" width="1" height="1" fill="#000"/>
<rect x="116" y="650" width="1" height="1" fill="#000"/>
<rect x="124" y="650" width="1" height="1" fill="#000"/>
<rect x="132" y="650" width="1" height="1" fill="#000"/>
<rect x="140" y="650" width="1" height="1" fill="#000"/>
<rect x="148" y="650" width="1" height="1" fill="#000"/>
<rect x="156" y="650" width="1" height="1" fill="#000"/>
<rect x="164" y="650" width="1" height="1" fill="#000"/>
<rect x="172" y="650" width="1" height="1" fill="#000"/>
<rect x="180" y="650" width="1" height="1" fill="#000"/>
<rect x="188" y="650" width="1" height="1" fill="#000"/>
<rect x="196" y="650" width="1" height="1" fill="#000"/>
<rect x="204" y="650" width="1" height="1" fill="#000"/>
<rect x="212" y="650" width="1" height="1" fill="#000"/>
<rect x="220" y="650" width="1" height="1" fill="#000"/>
<rect x="228" y="650" width="1" height="1" fill="#000"/>
<rect x="236" y="650" width="1" height="1" fill="#000"/>
<rect x="244" y="650" width="1" height="1" fill="#000"/>
<rect x="252" y="650" width="1" height="1" fill="#000"/>
<rect x="260" y="650" width="1" height="1" fill="#000"/>
<rect x="268" y="650" width="1" height="1" fill="#000"/>
<rect x="276" y="650" width="1" height="1" fill="#000"/>
<rect x="284" y="650" width="1" height="1" fill="#000"/>
<rect x="292" y="650" width="1" height="1" fill="#000"/>
<rect x="300" y="650" width="1" height="1" fill="#000"/>
<rect x="308" y="650" width="1" height="1" fill="#000"/>
<rect x="316" y="650" width="1" height="1" fill="#000"/>
<rect x="324" y="650" width="1" height="1" fill="#000"/>
<rect x="332" y="650" width="1" height="1" fill="#000"/>
<rect x="340" y="650" width="1" height="1" fill="#000"/>
<rect x="348" y="650" width="1" height="1" fill="#000"/>
<rect x="356" y="650" width="1" height="1" fill="#000"/>
<rect x="364" y="650" width="1" height="1" fill="#000"/>
<rect x="372" y="650" width="1" height="1" fill="#000"/>
<rect x="380" y="650" width="1" height="1" fill="#000"/>
<rect x="388" y="650" width="1" height="1" fill="#000"/>
<rect x="396" y="650" width="1" height="1" fill="#000"/>
<rect x="404" y="650" width="1" height="1" fill="#000"/>
<rect x="412" y="650" width="1" height="1" fill="#000"/>
<rect x="420" y="650" width="1" height="1" fill="#000"/>
<rect x="428" y="650" width="1" height="1" fill="#000"/>
<rect x="436" y="650" width="1" height="1" fill="#000"/>
<rect x="444" y="650" width="1" height="1" fill="#000"/>
<rect x="452" y="650" width="1" height="1" fill="#000"/>
<rect x="460" y="650" width="1" height="1" fill="#000"/>
<rect x="468" y="650" width="1" height="1" fill="#000"/>
<rect x="476" y="650" width="1" height="1" fill="#000"/>
<rect x="484" y="650" width="1" height="1" fill="#000"/>
<rect x="492" y="650" width="1" height="1" fill="#000"/>
<rect x="500" y="650" width="1" height="1" fill="#000"/>
<rect x="508" y="650" width="1" height="1" fill="#000"/>
<rect x="516" y="650" width="1" height="1" fill="#000"/>
<rect x="524" y="650" width="1" height="1" fill="#000"/>
<rect x="532" y="650" width="1" height="1" fill="#000"/>
<rect x="540" y="650" width="1" height="1" fill="#000"/>
<rect x="548" y="650" width="1" height="1" fill="#000"/>
<rect x="556" y="650" width="1" height="1" fill="#000"/>
<rect x="564" y="650" width="1" height="1" fill="#000"/>
<rect x="572" y="650" width="1" height="1" fill="#000"/>
<rect x="580" y="650" width="1" height="1" fill="#000"/>
<rect x="588" y="650" width="1" height="1" fill="#000"/>
<rect x="596" y="650" width="1" height="1" fill="#000"/>
<rect x="604" y="650" width="1" height="1" fill="#000"/>
<rect x="612" y="650" width="1" height="1" fill="#000"/>
<rect x="620" y="650" width="1" height="1" fill="#000"/>
<rect x="628" y="650" width="1" height="1" fill="#000"/>
<rect x="636" y="650" width="1" height="1" fill="#000"/>
<rect x="644" y="650" width="1" height="1" fill="#000"/>
<rect x="652" y="650" width="1" height="1" fill="#000"/>
<rect x="660" y="650" width="1" height="1" fill="#000"/>
<rect x="668" y="650" width="1" height="1" fill="#000"/>
<rect x="676" y="650" width="1" height="1" fill="#000"/>
<rect x="684" y="650" width="1" height="1" fill="#000"/>
<rect x="692" y="650" width="1" height="1" fill="#000"/>
<rect x="700" y="650" width="1" height="1" fill="#000"/>
<rect x="708" y="650" width="1" height="1" fill="#000"/>
<rect x="716" y="650" width="1" height="1" fill="#000"/>
<rect x="4" y="701" width="1" height="1" fill="#000"/>
<rect x="12" y="701" width="1" height="1" fill="#000"/>
<rect x="20" y="701" width="1" height="1" fill="#000"/>
<rect x="28" y="701" width="1" height="1" fill="#000"/>
<rect x="36" y="701" width="1" height="1" fill="#000"/>
<rect x="44" y="701" width="1" height="1" fill="#000"/>
<rect x="52" y="701" width="1" height="1" fill="#000"/>
<rect x="60" y="701" width="1" height="1" fill="#000"/>
<rect x="68" y="701" width="1" height="1" fill="#000"/>
<rect x="76" y="701" width="1" height="1" fill="#000"/>
<rect x="84" y="701" width="1" height="1" fill="#000"/>
<rect x="92" y="701" width="1" height="1" fill="#000"/>
<rect x="100" y="701" width="1" height="1" fill="#000"/>
<rect x="108" y="701" width="1" height="1" fill="#000"/>
<rect x="116" y="701" width="1" height="1" fill="#000"/>
<rect x="124" y="701" width="1" height="1" fill="#000"/>
<rect x="132" y="701" width="1" height="1" fill="#000"/>
<rect x="140" y="701" width="1" height="1" fill="#000"/>
<rect x="148" y="701" width="1" height="1" fill="#000"/>
<rect x="156" y="701" width="1" height="1" fill="#000"/>
<rect x="164" y="701" width="1" height="1" fill="#000"/>
<rect x="172" y="701" width="1" height="1" fill="#000"/>
<rect x="180" y="701" width="1" height="1" fill="#000"/>
<rect x="188" y="701" width="1" height="1" fill="#000"/>
<rect x="196" y="701" width="1" height="1" fill="#000"/>
<rect x="204" y="701" width="1" height="1" fill="#000"/>
<rect x="212" y="701" width="1" height="1" fill="#000"/>
<rect x="220" y="701" width="1" height="1" fill="#000"/>
<rect x="228" y="701" width="1" height="1" fill="#000"/>
<rect x="236" y="701" width="1" height="1" fill="#000"/>
<rect x="244" y="701" width="1" height="1" fill="#000"/>
<rect x="252" y="701" width="1" height="1" fill="#000"/>
<rect x="260" y="701" width="1" height="1" fill="#000"/>
<rect x="268" y="701" width="1" height="1" fill="#000"/>
<rect x="276" y="701" width="1" height="1" fill="#000"/>
<rect x="284" y="701" width="1" height="1" fill="#000"/>
<rect x="292" y="701" width="1" height="1" fill="#000"/>
<rect x="300" y="701" width="1" height="1" fill="#000"/>
<rect x="308" y="701" width="1" height="1" fill="#000"/>
<rect x="316" y="701" width="1" height="1" fill="#000"/>
<rect x="324" y="701" width="1" height="1" fill="#000"/>
<rect x="332" y="701" width="1" height="1" fill="#000"/>
<rect x="340" y="701" width="1" height="1" fill="#000"/>
<rect x="348" y="701" width="1" height="1" fill="#000"/>
<rect x="356" y="701" width="1" height="1" fill="#000"/>
<rect x="364" y="701" width="1" height="1" fill="#000"/>
<rect x="372" y="701" width="1" height="1" fill="#000"/>
<rect x="380" y="701" width="1" height="1" fill="#000"/>
<rect x="388" y="701" width="1" height="1" fill="#000"/>
<rect x="396" y="701" width="1" height="1" fill="#000"/>
<rect x="404" y="701" width="1" height="1" fill="#000"/>
<rect x="412" y="701" width="1" height="1" fill="#000"/>
<rect x="420" y="701" width="1" height="1" fill="#000"/>
<rect x="428" y="701" width="1" height="1" fill="#000"/>
<rect x="436" y="701" width="1" height="1" fill="#000"/>
<rect x="444" y="701" width="1" height="1" fill="#000"/>
<rect x="452" y="701" width="1" height="1" fill="#000"/>
<rect x="460" y="701" width="1" height="1" fill="#000"/>
<rect x="468" y="701" width="1" height="1" fill="#000"/>
<rect x="476" y="701" width="1" height="1" fill="#000"/>
<rect x="484" y="701" width="1" height="1" fill="#000"/>
<rect x="492" y="701" width="1" height="1" fill="#000"/>
<rect x="500" y="701" width="1" height="1" fill="#000"/>
<rect x="508" y="701" width="1" height="1" fill="#000"/>
<rect x="516" y="701" width="1" height="1" fill="#000"/>
<rect x="524" y="701" width="1" height="1" fill="#000"/>
<rect x="532" y="701" width="1" height="1" fill="#000"/>
<rect x="540" y="701" width="1" height="1" fill="#000"/>
<rect x="548" y="701" width="1" height="1" fill="#000"/>
<rect x="556" y="701" width="1" height="1" fill="#000"/>
<rect x="564" y="701" width="1" height="1" fill="#000"/>
<rect x="572" y="701" width="1" height="1" fill="#000"/>
<rect x="580" y="701" width="1" height="1" fill="#000"/>
<rect x="588" y="701" width="1" height="1" fill="#000"/>
<rect x="596" y="701" width="1" height="1" fill="#000"/>
<rect x="604" y="701" width="1" height="1" fill="#000"/>
<rect x="612" y="701" width="1" height="1" fill="#000"/>
<rect x="620" y="701" width="1" height="1" fill="#000"/>
<rect x="628" y="701" width="1" height="1" fill="#000"/>
<rect x="636" y="701" width="1" height="1" fill="#000"/>
<rect x="644" y="701" width="1" height="1" fill="#000"/>
<rect x="652" y="701" width="1" height="1" fill="#000"/>
<rect x="660" y="701" width="1" height="1" fill="#000"/>
<rect x="668" y="701" width="1" height="1" fill="#000"/>
<rect x="676" y="701" width="1" height="1" fill="#000"/>
<rect x="684" y="701" width="1" height="1" fill="#000"/>
<rect x="692" y="701" width="1" height="1" fill="#000"/>
<rect x="700" y="701" width="1" height="1" fill="#000"/>
<rect x="708" y="701" width="1" height="1" fill="#000"/>
<rect x="716" y="701" width="1" height="1" fill="#000"/>
<polyline points="192.5,439.5 197.5,447.5 210.5,460.5 226.5,468.5 235.5,472.5 241.5,477.5 248.5,484.5 253.5,495.5 260.5,508.5 265.5,524.5 271.5,539.5 276.5,559.5 287.5,598.5 296.5,637.5 307.5,672.5 319.5,700.5 331.5,713.5 342.5,717.5 357.5,717.5 376.5,713.5 393.5,711.5 400.5,709.5 416.5,705.5 431.5,701.5 438.5,699.5 454.5,699.5 468.5,703.5 486.5,709.5 500.5,715.5 513.5,716.5 527.5,712.5 540.5,709.5 549.5,704.5 561.5,703.5 573.5,707.5 584.5,715.5 596.5,720.5 610.5,725.5 623.5,722.5 634.5,704.5 642.5,683.5 650.5,654.5 657.5,630.5 665.5,612.5 673.5,600.5 682.5,587.5 688.5,580.5 693.9,576.5" fill="none" stroke="#0000ff" stroke-width="1"/>
<rect x="4" y="572" width="3" height="3" fill="#008c00"/>
<rect x="16" y="557" width="3" height="3" fill="#008c00"/>
<rect x="28" y="555" width="3" height="3" fill="#008c00"/>
<rect x="40" y="551" width="3" height="3" fill="#008c00"/>
<rect x="64" y="549" width="3" height="3" fill="#008c00"/>
<rect x="88" y="550" width="3" height="3" fill="#008c00"/>
<rect x="137" y="550" width="3" height="3" fill="#008c00"/>
<rect x="149" y="550" width="3" height="3" fill="#008c00"/>
<rect x="173" y="552" width="3" height="3" fill="#008c00"/>
<rect x="185" y="552" width="3" height="3" fill="#008c00"/>
<rect x="197" y="550" width="3" height="3" fill="#008c00"/>
<rect x="209" y="551" width="3" height="3" fill="#008c00"/>
<rect x="221" y="552" width="3" height="3" fill="#008c00"/>
<rect x="233" y="551" width="3" height="3" fill="#008c00"/>
<rect x="246" y="552" width="3" height="3" fill="#008c00"/>
<rect x="258" y="550" width="3" height="3" fill="#008c00"/>
<rect x="270" y="550" width="3" height="3" fill="#008c00"/>
<rect x="282" y="550" width="3" height="3" fill="#008c00"/>
<rect x="294" y="550" width="3" height="3" fill="#008c00"/>
<rect x="342" y="544" width="3" height="3" fill="#008c00"/>
<rect x="354" y="539" width="3" height="3" fill="#008c00"/>
<rect x="367" y="540" width="3" height="3" fill="#008c00"/>
<rect x="379" y="540" width="3" height="3" fill="#008c00"/>
<rect x="391" y="540" width="3" height="3" fill="#008c00"/>
<rect x="403" y="540" width="3" height="3" fill="#008c00"/>
<rect x="415" y="536" width="3" height="3" fill="#008c00"/>
<rect x="427" y="536" width="3" height="3" fill="#008c00"/>
<rect x="439" y="540" width="3" height="3" fill="#008c00"/>
<rect x="451" y="539" width="3" height="3" fill="#008c00"/>
<rect x="463" y="539" width="3" height="3" fill="#008c00"/>
<rect x="475" y="539" width="3" height="3" fill="#008c00"/>
<rect x="488" y="539" width="3" height="3" fill="#008c00"/>
<rect x="500" y="536" width="3" height="3" fill="#008c00"/>
<rect x="512" y="534" width="3" height="3" fill="#008c00"/>
<rect x="524" y="534" width="3" height="3" fill="#008c00"/>
<rect x="536" y="534" width="3" height="3" fill="#008c00"/>
<rect x="548" y="534" width="3" height="3" fill="#008c00"/>
<rect x="560" y="542" width="3" height="3" fill="#008c00"/>
<rect x="572" y="541" width="3" height="3" fill="#008c00"/>
<rect x="584" y="539" width="3" height="3" fill="#008c00"/>
<rect x="596" y="539" width="3" height="3" fill="#008c00"/>
<rect x="609" y="544" width="3" height="3" fill="#008c00"/>
<rect x="621" y="539" width="3" height="3" fill="#008c00"/>
<rect x="633" y="539" width="3" height="3" fill="#008c00"/>
<rect x="645" y="539" width="3" height="3" fill="#008c00"/>
<rect x="657" y="539" width="3" height="3" fill="#008c00"/>
<rect x="669" y="539" width="3" height="3" fill="#008c00"/>
<rect x="681" y="539" width="3" height="3" fill="#008c00"/>
<rect x="4" y="547" width="3" height="3" fill="#ff0000"/>
<rect x="16" y="552" width="3" height="3" fill="#ff0000"/>
<rect x="28" y="551" width="3" height="3" fill="#ff0000"/>
<rect x="40" y="547" width="3" height="3" fill="#ff0000"/>
<rect x="52" y="550" width="3" height="3" fill="#ff0000"/>
<rect x="64" y="547" width="3" height="3" fill="#ff0000"/>
<rect x="76" y="547" width="3" height="3" fill="#ff0000"/>
<rect x="88" y="547" width="3" height="3" fill="#ff0000"/>
<rect x="100" y="548" width="3" height="3" fill="#ff0000"/>
<rect x="112" y="547" width="3" height="3" fill="#ff0000"/>
<rect x="125" y="547" width="3" height="3" fill="#ff0000"/>
<rect x="137" y="547" width="3" height="3" fill="#ff0000"/>
<rect x="149" y="547" width="3" height="3" fill="#ff0000"/>
<rect x="161" y="547" width="3" height="3" fill="#ff0000"/>
<rect x="173" y="547" width="3" height="3" fill="#ff0000"/>
<rect x="185" y="547" width="3" height="3" fill="#ff0000"/>
<rect x="197" y="547" width="3" height="3" fill="#ff0000"/>
<rect x="209" y="547" width="3" height="3" fill="#ff0000"/>
<rect x="221" y="547" width="3" height="3" fill="#ff0000"/>
<rect x="233" y="547" width="3" height="3" fill="#ff0000"/>
<rect x="246" y="547" width="3" height="3" fill="#ff0000"/>
<rect x="258" y="547" width="3" height="3" fill="#ff0000"/>
<rect x="270" y="547" width="3" height="3" fill="#ff0000"/>
<rect x="282" y="547" width="3" height="3" fill="#ff0000"/>
<rect x="294" y="547" width="3" height="3" fill="#ff0000"/>
<rect x="306" y="547" width="3" height="3" fill="#ff0000"/>
<rect x="318" y="547" width="3" height="3" fill="#ff0000"/>
<rect x="330" y="547" width="3" height="3" fill="#ff0000"/>
<rect x="342" y="547" width="3" height="3" fill="#ff0000"/>
<rect x="354" y="524" width="3" height="3" fill="#ff0000"/>
<rect x="367" y="524" width="3" height="3" fill="#ff0000"/>
<rect x="379" y="524" width="3" height="3" fill="#ff0000"/>
<rect x="391" y="524" width="3" height="3" fill="#ff0000"/>
<rect x="403" y="524" width="3" height="3" fill="#ff0000"/>
<rect x="415" y="524" width="3" height="3" fill="#ff0000"/>
<rect x="427" y="524" width="3" height="3" fill="#ff0000"/>
<rect x="439" y="524" width="3" height="3" fill="#ff0000"/>
<rect x="451" y="524" width="3" height="3" fill="#ff0000"/>
<rect x="463" y="524" width="3" height="3" fill="#ff0000"/>
<rect x="475" y="524" width="3" height="3" fill="#ff0000"/>
<rect x="488" y="524" width="3" height="3" fill="#ff0000"/>
<rect x="500" y="524" width="3" height="3" fill="#ff0000"/>
<rect x="512" y="524" width="3" height="3" fill="#ff0000"/>
<rect x="524" y="524" width="3" height="3" fill="#ff0000"/>
<rect x="536" y="524" width="3" height="3" fill="#ff0000"/>
<rect x="548" y="524" width="3" height="3" fill="#ff0000"/>
<rect x="560" y="524" width="3" height="3" fill="#ff0000"/>
<rect x="572" y="524" width="3" height="3" fill="#ff0000"/>
<rect x="584" y="524" width="3" height="3" fill="#ff0000"/>
<rect x="596" y="524" width="3" height="3" fill="#ff0000"/>
<rect x="609" y="524" width="3" height="3" fill="#ff0000"/>
<rect x="621" y="524" width="3" height="3" fill="#ff0000"/>
<rect x="633" y="524" width="3" height="3" fill="#ff0000"/>
<rect x="645" y="524" width="3" height="3" fill="#ff0000"/>
<rect x="657" y="524" width="3" height="3" fill="#ff0000"/>
<rect x="669" y="524" width="3" height="3" fill="#ff0000"/>
<rect x="681" y="524" width="3" height="3" fill="#ff0000"/>
<rect x="693" y="524" width="3" height="3" fill="#ff0000"/>
<rect x="5" y="548" width="1" height="26" fill="#000"/>
<rect x="1" y="558" width="9" height="4" fill="#000"/>
<rect x="2" y="559" width="7" height="2" fill="#fff"/>
<rect x="17" y="553" width="1" height="6" fill="#000"/>
<rect x="13" y="554" width="9" height="2" fill="#000"/>
<rect x="29" y="553" width="1" height="3" fill="#000"/>
<rect x="25" y="553" width="9" height="3" fill="#000"/>
<rect x="26" y="554" width="7" height="1" fill="#fff"/>
<rect x="37" y="548" width="9" height="4" fill="#000"/>
<rect x="49" y="551" width="9" height="1" fill="#000"/>
<rect x="65" y="548" width="1" height="3" fill="#000"/>
<rect x="61" y="548" width="9" height="1" fill="#000"/>
<rect x="73" y="548" width="9" height="1" fill="#000"/>
<rect x="85" y="551" width="9" height="1" fill="#000"/>
<rect x="101" y="538" width="1" height="11" fill="#000"/>
<rect x="97" y="543" width="9" height="6" fill="#000"/>
<rect x="98" y="544" width="7" height="4" fill="#fff"/>
<rect x="109" y="548" width="9" height="1" fill="#000"/>
<rect x="122" y="548" width="9" height="1" fill="#000"/>
<rect x="134" y="550" width="9" height="1" fill="#000"/>
<rect x="146" y="550" width="9" height="1" fill="#000"/>
<rect x="158" y="548" width="9" height="1" fill="#000"/>
<rect x="174" y="551" width="1" height="3" fill="#000"/>
<rect x="170" y="553" width="9" height="1" fill="#000"/>
<rect x="186" y="548" width="1" height="6" fill="#000"/>
<rect x="182" y="550" width="9" height="4" fill="#000"/>
<rect x="183" y="551" width="7" height="2" fill="#fff"/>
<rect x="194" y="550" width="9" height="1" fill="#000"/>
<rect x="210" y="549" width="1" height="3" fill="#000"/>
<rect x="206" y="550" width="9" height="1" fill="#000"/>
<rect x="222" y="550" width="1" height="4" fill="#000"/>
<rect x="218" y="550" width="9" height="1" fill="#000"/>
<rect x="230" y="548" width="9" height="5" fill="#000"/>
<rect x="243" y="552" width="9" height="1" fill="#000"/>
<rect x="255" y="549" width="9" height="2" fill="#000"/>
<rect x="271" y="548" width="1" height="3" fill="#000"/>
<rect x="267" y="549" width="9" height="2" fill="#000"/>
<rect x="283" y="525" width="1" height="26" fill="#000"/>
<rect x="279" y="548" width="9" height="3" fill="#000"/>
<rect x="280" y="549" width="7" height="1" fill="#fff"/>
<rect x="291" y="548" width="9" height="3" fill="#000"/>
<rect x="307" y="540" width="1" height="9" fill="#000"/>
<rect x="303" y="542" width="9" height="4" fill="#000"/>
<rect x="315" y="545" width="9" height="4" fill="#000"/>
<rect x="316" y="546" width="7" height="2" fill="#fff"/>
<rect x="327" y="548" width="9" height="1" fill="#000"/>
<rect x="343" y="490" width="1" height="56" fill="#000"/>
<rect x="339" y="537" width="9" height="9" fill="#000"/>
<rect x="340" y="538" width="7" height="7" fill="#fff"/>
<rect x="355" y="525" width="1" height="16" fill="#000"/>
<rect x="351" y="540" width="9" height="1" fill="#000"/>
<rect x="364" y="537" width="9" height="4" fill="#000"/>
<rect x="365" y="538" width="7" height="2" fill="#fff"/>
<rect x="380" y="538" width="1" height="3" fill="#000"/>
<rect x="376" y="539" width="9" height="2" fill="#000"/>
<rect x="388" y="537" width="9" height="4" fill="#000"/>
<rect x="389" y="538" width="7" height="2" fill="#fff"/>
<rect x="404" y="537" width="1" height="4" fill="#000"/>
<rect x="400" y="537" width="9" height="1" fill="#000"/>
<rect x="412" y="537" width="9" height="1" fill="#000"/>
<rect x="424" y="537" width="9" height="1" fill="#000"/>
<rect x="436" y="537" width="9" height="4" fill="#000"/>
<rect x="448" y="540" width="9" height="1" fill="#000"/>
<rect x="464" y="539" width="1" height="2" fill="#000"/>
<rect x="460" y="540" width="9" height="1" fill="#000"/>
<rect x="472" y="540" width="9" height="1" fill="#000"/>
<rect x="485" y="540" width="9" height="1" fill="#000"/>
<rect x="501" y="537" width="1" height="1" fill="#000"/>
<rect x="497" y="537" width="9" height="1" fill="#000"/>
<rect x="509" y="535" width="9" height="1" fill="#000"/>
<rect x="521" y="535" width="9" height="1" fill="#000"/>
<rect x="533" y="535" width="9" height="1" fill="#000"/>
<rect x="545" y="535" width="9" height="1" fill="#000"/>
<rect x="561" y="537" width="1" height="6" fill="#000"/>
<rect x="557" y="537" width="9" height="4" fill="#000"/>
<rect x="573" y="537" width="1" height="5" fill="#000"/>
<rect x="569" y="537" width="9" height="4" fill="#000"/>
<rect x="570" y="538" width="7" height="2" fill="#fff"/>
<rect x="581" y="540" width="9" height="1" fill="#000"/>
<rect x="593" y="540" width="9" height="1" fill="#000"/>
<rect x="606" y="537" width="9" height="9" fill="#000"/>
<rect x="618" y="540" width="9" height="1" fill="#000"/>
<rect x="630" y="540" width="9" height="1" fill="#000"/>
<rect x="642" y="538" width="9" height="3" fill="#000"/>
<rect x="643" y="539" width="7" height="1" fill="#fff"/>
<rect x="654" y="542" width="9" height="2" fill="#000"/>
<rect x="666" y="540" width="9" height="4" fill="#000"/>
<rect x="678" y="537" width="9" height="4" fill="#000"/>
<rect x="679" y="538" width="7" height="2" fill="#fff"/>
<rect x="690" y="537" width="9" height="7" fill="#000"/>
<rect x="355" y="547" width="1" height="2" fill="#008c00"/>
<rect x="354" y="549" width="3" height="2" fill="#008c00"/>
<rect x="353" y="551" width="5" height="2" fill="#008c00"/>
<rect x="352" y="553" width="7" height="2" fill="#008c00"/>
<rect x="351" y="555" width="9" height="1" fill="#008c00"/>
<rect x="354" y="556" width="3" height="6" fill="#008c00"/>
<rect x="525" y="542" width="1" height="2" fill="#008c00"/>
<rect x="524" y="544" width="3" height="2" fill="#008c00"/>
<rect x="523" y="546" width="5" height="2" fill="#008c00"/>
<rect x="522" y="548" width="7" height="2" fill="#008c00"/>
<rect x="521" y="550" width="9" height="1" fill="#008c00"/>
<rect x="524" y="551" width="3" height="6" fill="#008c00"/>
<rect x="622" y="547" width="1" height="2" fill="#008c00"/>
<rect x="621" y="549" width="3" height="2" fill="#008c00"/>
<rect x="620" y="551" width="5" height="2" fill="#008c00"/>
<rect x="619" y="553" width="7" height="2" fill="#008c00"/>
<rect x="618" y="555" width="9" height="1" fill="#008c00"/>
<rect x="621" y="556" width="3" height="6" fill="#008c00"/>
<rect x="3" y="5" width="717" height="1" fill="#000"/>
<rect x="3" y="298" width="717" height="1" fill="#000"/>
<rect x="3" y="5" width="1" height="294" fill="#000"/>
<rect x="719" y="5" width="1" height="294" fill="#000"/>
<rect x="3" y="319" width="717" height="1" fill="#000"/>
<rect x="3" y="406" width="717" height="1" fill="#000"/>
<rect x="3" y="319" width="1" height="88" fill="#000"/>
<rect x="719" y="319" width="1" height="88" fill="#000"/>
<rect x="3" y="416" width="717" height="1" fill="#000"/>
<rect x="3" y="731" width="717" height="1" fill="#000"/>
<rect x="3" y="416" width="1" height="316" fill="#000"/>
<rect x="719" y="416" width="1" height="316" fill="#000"/>
<rect x="720" y="7" width="4" height="1" fill="#000"/>
<rect x="720" y="48" width="4" height="1" fill="#000"/>
<rect x="720" y="88" width="4" height="1" fill="#000"/>
<rect x="720" y="129" width="4" height="1" fill="#000"/>
<rect x="720" y="170" width="4" height="1" fill="#000"/>
<rect x="720" y="211" width="4" height="1" fill="#000"/>
<rect x="720" y="252" width="4" height="1" fill="#000"/>
<rect x="720" y="293" width="4" height="1" fill="#000"/>
<rect x="720" y="334" width="4" height="1" fill="#000"/>
<rect x="720" y="359" width="4" height="1" fill="#000"/>
<rect x="720" y="384" width="4" height="1" fill="#000"/>
<rect x="720" y="445" width="4" height="1" fill="#000"/>
<rect x="720" y="496" width="4" height="1" fill="#000"/>
<rect x="720" y="548" width="4" height="1" fill="#000"/>
<rect x="720" y="599" width="4" height="1" fill="#000"/>
<rect x="720" y="650" width="4" height="1" fill="#000"/>
<rect x="720" y="701" width="4" height="1" fill="#000"/>
<rect x="186" y="299" width="1" height="7" fill="#000"/>
<rect x="186" y="732" width="1" height="7" fill="#000"/>
<rect x="440" y="299" width="1" height="7" fill="#000"/>
<rect x="440" y="732" width="1" height="7" fill="#000"/>
<rect x="670" y="299" width="1" height="7" fill="#000"/>
<rect x="670" y="732" width="1" height="7" fill="#000"/>
<rect x="10" y="0" width="453" height="29" fill="#fff"/>
<rect x="10" y="314" width="356" height="14" fill="#fff"/>
<rect x="10" y="410" width="424" height="29" fill="#fff"/>
</g>
<g style="font-family:'Liberation Sans',Arial,sans-serif;font-size:12px" fill="#000" stroke="#000" stroke-width="0.2">
<text x="10 19 27 35 43 46 50 53 62 69 72 75 81 84 91 98 105 112 116 123 130 134 141 148 151 160 167 174 181 184 191 198 201 208 215 218 221 230 233 240 247 250 257 264 267 274 281 284 287 294 301 310 313 320 327 330 337 344 347 350 359 362 369 375 382 385 392 399 402 409 416 419 423 427 434 437 444 455" y="11" xml:space="preserve">OYSE - Daily 2025-10-03 Open 10.04  High 10.04  Low 10.02  Close 10.02 (-0.2%)</text>
<text x="10 18 25 28 31 38 45 48 55 62 69" y="25" xml:space="preserve">Vol 11,368 </text>
<text x="72 81 88 94 98" y="25" fill="#ff00ff" stroke="#ff00ff" xml:space="preserve">Res-1</text>
<text x="105 108 115 118 125 132 135 142 149 152" y="25" xml:space="preserve"> = 10.05, </text>
<text x="155 164 171 177 181" y="25" fill="#ff0000" stroke="#ff0000" xml:space="preserve">Res-2</text>
<text x="188 191 198 201 208 215 218 225 232 235" y="25" xml:space="preserve"> = 10.05, </text>
<text x="238 246 253 260 264" y="25" fill="#0000ff" stroke="#0000ff" xml:space="preserve">Sup-1</text>
<text x="271 274 281 284 291 298 301 308 315 318" y="25" xml:space="preserve"> = 10.03, </text>
<text x="321 329 336 343 347" y="25" fill="#008c00" stroke="#008c00" xml:space="preserve">Sup-2</text>
<text x="354 357 364 367 374 377 384" y="25" xml:space="preserve"> = 9.99</text>
<text x="10 19 27 35 43 46 50" y="325" xml:space="preserve">OYSE - </text>
<text x="53 60 63 70" y="325" fill="#ff0000" stroke="#ff0000" xml:space="preserve">Line</text>
<text x="77 80 87 90 97 104 107 114 121 124 127 134 141 148 151 158 161 168 175 178 185 192 195 198 206 213 216 219 226 236 239 246 249 256 263 266 273 280 283" y="325" xml:space="preserve"> = 44.50, Top = 85.75, Bottom = 26.49, </text>
<text x="286 294 297 304 311 318" y="325" fill="#0000ff" stroke="#0000ff" xml:space="preserve">Signal</text>
<text x="321 324 331 334 341 348 351 358" y="325" xml:space="preserve"> = 41.96</text>
<text x="10 19 27 35 43 46 50 53 62 69 72 75 81 84 91 98 105 112 116 123 130 134 141 148 151 160 167 174 181 184 191 198 201 208 215 218 227 230 233 240 247 250 257 264 267 274 281 284 291 298 301 308 315 318 321 330 333 340 346 353 356 363 370 373 380 387 390 394 398 405 408 415 426" y="422" xml:space="preserve">OYSE - Daily 2025-10-03 Open 10.04,Hi 10.04,Lo 10.02, Close 10.02 (-0.2%)</text>
<text x="10 18 25 28 31 38 41 48 55 62 65 72 79 86" y="436" xml:space="preserve">Vol 1,136,800 </text>
<text x="89 96 103" y="436" fill="#ff0000" stroke="#ff0000" xml:space="preserve">Top</text>
<text x="110 113 120 123 130 137 140 147 154 157" y="436" xml:space="preserve"> = 10.09, </text>
<text x="160 168 175 178 181 188" y="436" fill="#008c00" stroke="#008c00" xml:space="preserve">Bottom</text>
<text x="198 201 208 211 218 225 228 235 242 245" y="436" xml:space="preserve"> = 10.03, </text>
<text x="248 255 259 266 273" y="436" fill="#0000ff" stroke="#0000ff" xml:space="preserve">Trend</text>
<text x="280 283 290 293 300 303 310" y="436" xml:space="preserve"> = 9.89</text>
<text x="745 752 759 762 769" y="11" xml:space="preserve">10.25</text>
<text x="745 752 759 762 769" y="52" xml:space="preserve">10.20</text>
<text x="745 752 759 762 769" y="92" xml:space="preserve">10.15</text>
<text x="745 752 759 762 769" y="133" xml:space="preserve">10.10</text>
<text x="745 752 759 762 769" y="174" xml:space="preserve">10.05</text>
<text x="745 752 759 762 769" y="215" xml:space="preserve">10.00</text>
<text x="752 759 762 769" y="256" xml:space="preserve">9.95</text>
<text x="752 759 762 769" y="297" xml:space="preserve">9.90</text>
<text x="762 769" y="338" xml:space="preserve">80</text>
<text x="762 769" y="363" xml:space="preserve">60</text>
<text x="762 769" y="388" xml:space="preserve">40</text>
<text x="752 759 766 769" y="449" xml:space="preserve">10.4</text>
<text x="752 759 766 769" y="500" xml:space="preserve">10.2</text>
<text x="752 759 766 769" y="552" xml:space="preserve">10.0</text>
<text x="759 766 769" y="603" xml:space="preserve">9.8</text>
<text x="759 766 769" y="654" xml:space="preserve">9.6</text>
<text x="759 766 769" y="705" xml:space="preserve">9.4</text>
<text x="9 15 22" y="310" xml:space="preserve">Jul</text>
<text x="190 198 205 212 219 225" y="310" xml:space="preserve">August</text>
<text x="444 452 459 466 469 476 486 493 500" y="310" xml:space="preserve">September</text>
<text x="674 683 689 692 699 706 713" y="310" xml:space="preserve">October</text>
<text x="9 15 22" y="743" xml:space="preserve">Jul</text>
<text x="190 198 205 212 219 225" y="743" xml:space="preserve">August</text>
<text x="444 452 459 466 469 476 486 493 500" y="743" xml:space="preserve">September</text>
<text x="674 683 689 692 699 706 713" y="743" xml:space="preserve">October</text>
</g>
</svg>
</body></html>
